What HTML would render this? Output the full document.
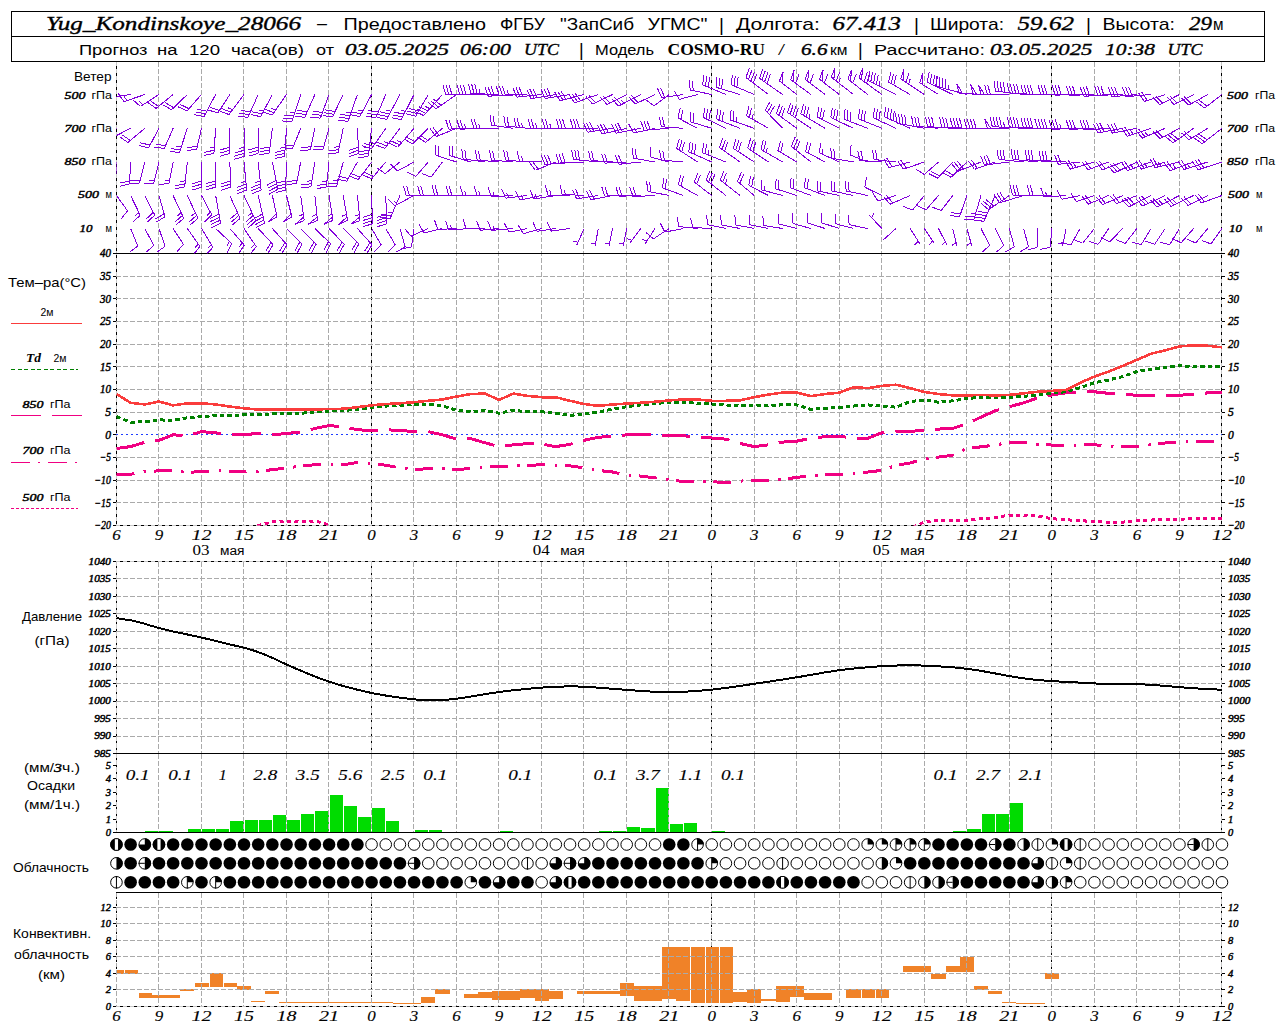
<!DOCTYPE html>
<html lang="ru"><head><meta charset="utf-8"><title>Meteogram Yug_Kondinskoye_28066</title>
<style>html,body{margin:0;padding:0;background:#fff;width:1280px;height:1024px;overflow:hidden}svg{display:block}</style></head>
<body>
<svg width="1280" height="1024" viewBox="0 0 1280 1024" shape-rendering="crispEdges">
<rect x="0" y="0" width="1280" height="1024" fill="#fff"/>
<defs><clipPath id="cw"><rect x="116.45" y="62" width="1105.52" height="191.5"/></clipPath><clipPath id="ct"><rect x="116.45" y="253.5" width="1106.52" height="272"/></clipPath><clipPath id="cc"><rect x="116.45" y="892.5" width="1105.52" height="114"/></clipPath></defs>
<rect x="11.5" y="11.5" width="1253.0" height="50.0" fill="none" stroke="#000" stroke-width="1"/>
<line x1="11.5" y1="36.5" x2="1264.5" y2="36.5" stroke="#000" stroke-width="1"/>
<g id="hdr">
<text x="46" y="30" font-family='"Liberation Serif", serif' font-size="19.5" font-style="italic" text-anchor="start" textLength="255" lengthAdjust="spacingAndGlyphs" fill="#000" stroke="#000" stroke-width="0.35">Yug_Kondinskoye_28066</text>
<text x="317" y="29" font-family='"Liberation Sans", sans-serif' font-size="17" text-anchor="start" textLength="10" lengthAdjust="spacingAndGlyphs" fill="#000">–</text>
<text x="343.5" y="30" font-family='"Liberation Sans", sans-serif' font-size="17" text-anchor="start" textLength="142.5" lengthAdjust="spacingAndGlyphs" fill="#000">Предоставлено</text>
<text x="500" y="30" font-family='"Liberation Sans", sans-serif' font-size="17" text-anchor="start" textLength="45" lengthAdjust="spacingAndGlyphs" fill="#000">ФГБУ</text>
<text x="560" y="30" font-family='"Liberation Sans", sans-serif' font-size="17" text-anchor="start" textLength="74" lengthAdjust="spacingAndGlyphs" fill="#000">"ЗапСиб</text>
<text x="647.5" y="30" font-family='"Liberation Sans", sans-serif' font-size="17" text-anchor="start" textLength="60" lengthAdjust="spacingAndGlyphs" fill="#000">УГМС"</text>
<text x="719" y="31" font-family='"Liberation Sans", sans-serif' font-size="19" text-anchor="start" fill="#000">|</text>
<text x="736" y="30" font-family='"Liberation Sans", sans-serif' font-size="17" text-anchor="start" textLength="84" lengthAdjust="spacingAndGlyphs" fill="#000">Долгота:</text>
<text x="832.5" y="30" font-family='"Liberation Serif", serif' font-size="19.5" font-style="italic" text-anchor="start" textLength="68.5" lengthAdjust="spacingAndGlyphs" fill="#000" stroke="#000" stroke-width="0.35">67.413</text>
<text x="914" y="31" font-family='"Liberation Sans", sans-serif' font-size="19" text-anchor="start" fill="#000">|</text>
<text x="930" y="30" font-family='"Liberation Sans", sans-serif' font-size="17" text-anchor="start" textLength="74" lengthAdjust="spacingAndGlyphs" fill="#000">Широта:</text>
<text x="1017.5" y="30" font-family='"Liberation Serif", serif' font-size="19.5" font-style="italic" text-anchor="start" textLength="56.5" lengthAdjust="spacingAndGlyphs" fill="#000" stroke="#000" stroke-width="0.35">59.62</text>
<text x="1086" y="31" font-family='"Liberation Sans", sans-serif' font-size="19" text-anchor="start" fill="#000">|</text>
<text x="1102.5" y="30" font-family='"Liberation Sans", sans-serif' font-size="17" text-anchor="start" textLength="72.5" lengthAdjust="spacingAndGlyphs" fill="#000">Высота:</text>
<text x="1189" y="30" font-family='"Liberation Serif", serif' font-size="19.5" font-style="italic" text-anchor="start" textLength="23" lengthAdjust="spacingAndGlyphs" fill="#000" stroke="#000" stroke-width="0.35">29</text>
<text x="1213" y="30" font-family='"Liberation Sans", sans-serif' font-size="16" text-anchor="start" textLength="10.5" lengthAdjust="spacingAndGlyphs" fill="#000">м</text>
<text x="79" y="54.5" font-family='"Liberation Sans", sans-serif' font-size="15.5" text-anchor="start" textLength="68.5" lengthAdjust="spacingAndGlyphs" fill="#000">Прогноз</text>
<text x="157" y="54.5" font-family='"Liberation Sans", sans-serif' font-size="15.5" text-anchor="start" textLength="20.5" lengthAdjust="spacingAndGlyphs" fill="#000">на</text>
<text x="189" y="54.5" font-family='"Liberation Sans", sans-serif' font-size="15.5" text-anchor="start" textLength="31" lengthAdjust="spacingAndGlyphs" fill="#000">120</text>
<text x="231" y="54.5" font-family='"Liberation Sans", sans-serif' font-size="15.5" text-anchor="start" textLength="73" lengthAdjust="spacingAndGlyphs" fill="#000">часа(ов)</text>
<text x="316" y="54.5" font-family='"Liberation Sans", sans-serif' font-size="15.5" text-anchor="start" textLength="18" lengthAdjust="spacingAndGlyphs" fill="#000">от</text>
<text x="345" y="54.5" font-family='"Liberation Serif", serif' font-size="17" font-style="italic" text-anchor="start" textLength="104" lengthAdjust="spacingAndGlyphs" fill="#000" stroke="#000" stroke-width="0.35">03.05.2025</text>
<text x="460" y="54.5" font-family='"Liberation Serif", serif' font-size="17" font-style="italic" text-anchor="start" textLength="51" lengthAdjust="spacingAndGlyphs" fill="#000" stroke="#000" stroke-width="0.35">06:00</text>
<text x="524" y="54.5" font-family='"Liberation Serif", serif' font-size="17" font-style="italic" text-anchor="start" textLength="35" lengthAdjust="spacingAndGlyphs" fill="#000" stroke="#000" stroke-width="0.35">UTC</text>
<text x="579" y="55.5" font-family='"Liberation Sans", sans-serif' font-size="18" text-anchor="start" fill="#000">|</text>
<text x="595" y="54.5" font-family='"Liberation Sans", sans-serif' font-size="15.5" text-anchor="start" textLength="59" lengthAdjust="spacingAndGlyphs" fill="#000">Модель</text>
<text x="667.5" y="54.5" font-family='"Liberation Serif", serif' font-size="17" font-weight="bold" text-anchor="start" textLength="97.5" lengthAdjust="spacingAndGlyphs" fill="#000">COSMO-RU</text>
<text x="779" y="54.5" font-family='"Liberation Serif", serif' font-size="17" font-style="italic" font-weight="bold" text-anchor="start" fill="#000">/</text>
<text x="801" y="54.5" font-family='"Liberation Serif", serif' font-size="17" font-style="italic" text-anchor="start" textLength="26.5" lengthAdjust="spacingAndGlyphs" fill="#000" stroke="#000" stroke-width="0.35">6.6</text>
<text x="830" y="54.5" font-family='"Liberation Sans", sans-serif' font-size="14" text-anchor="start" textLength="17.5" lengthAdjust="spacingAndGlyphs" fill="#000">км</text>
<text x="858" y="55.5" font-family='"Liberation Sans", sans-serif' font-size="18" text-anchor="start" fill="#000">|</text>
<text x="874" y="54.5" font-family='"Liberation Sans", sans-serif' font-size="15.5" text-anchor="start" textLength="111" lengthAdjust="spacingAndGlyphs" fill="#000">Рассчитано:</text>
<text x="990" y="54.5" font-family='"Liberation Serif", serif' font-size="17" font-style="italic" text-anchor="start" textLength="102.5" lengthAdjust="spacingAndGlyphs" fill="#000" stroke="#000" stroke-width="0.35">03.05.2025</text>
<text x="1105" y="54.5" font-family='"Liberation Serif", serif' font-size="17" font-style="italic" text-anchor="start" textLength="50" lengthAdjust="spacingAndGlyphs" fill="#000" stroke="#000" stroke-width="0.35">10:38</text>
<text x="1167.5" y="54.5" font-family='"Liberation Serif", serif' font-size="17" font-style="italic" text-anchor="start" textLength="35" lengthAdjust="spacingAndGlyphs" fill="#000" stroke="#000" stroke-width="0.35">UTC</text>
</g>
<g id="conv" clip-path="url(#cc)">
<rect x="109" y="970.4" width="15" height="4.06" fill="#f08228"/>
<rect x="125" y="970.4" width="13" height="4.06" fill="#f08228"/>
<rect x="139" y="993" width="13" height="5.38" fill="#f08228"/>
<rect x="152" y="995.07" width="14" height="3.31" fill="#f08228"/>
<rect x="166" y="995.07" width="14" height="3.31" fill="#f08228"/>
<rect x="180" y="989.11" width="14" height="2.24" fill="#f08228"/>
<rect x="195" y="982.9" width="14" height="4.55" fill="#f08228"/>
<rect x="210" y="973.13" width="13" height="14.32" fill="#f08228"/>
<rect x="224" y="982.9" width="13" height="4.55" fill="#f08228"/>
<rect x="237" y="985.8" width="14" height="3.81" fill="#f08228"/>
<rect x="251" y="1001.12" width="14" height="1.24" fill="#f08228"/>
<rect x="265" y="990.77" width="14" height="2.9" fill="#f08228"/>
<rect x="279" y="1002.11" width="15" height="1" fill="#f08228"/>
<rect x="294" y="1002.11" width="14" height="1" fill="#f08228"/>
<rect x="308" y="1002.11" width="14" height="1" fill="#f08228"/>
<rect x="322" y="1002.11" width="14" height="1" fill="#f08228"/>
<rect x="336" y="1002.11" width="14" height="1" fill="#f08228"/>
<rect x="350" y="1002.11" width="14" height="1" fill="#f08228"/>
<rect x="364" y="1002.11" width="15" height="1" fill="#f08228"/>
<rect x="379" y="1002.11" width="14" height="1" fill="#f08228"/>
<rect x="393" y="1003.02" width="14" height="1" fill="#f08228"/>
<rect x="407" y="1003.02" width="14" height="1" fill="#f08228"/>
<rect x="421" y="996.73" width="14" height="6.46" fill="#f08228"/>
<rect x="435" y="989.11" width="15" height="4.55" fill="#f08228"/>
<rect x="464" y="994.33" width="14" height="4.06" fill="#f08228"/>
<rect x="478" y="992.42" width="14" height="5.96" fill="#f08228"/>
<rect x="492" y="990.77" width="14" height="9.36" fill="#f08228"/>
<rect x="506" y="990.77" width="14" height="9.36" fill="#f08228"/>
<rect x="520" y="989.11" width="15" height="9.27" fill="#f08228"/>
<rect x="535" y="989.11" width="14" height="11.59" fill="#f08228"/>
<rect x="549" y="990.77" width="14" height="8.28" fill="#f08228"/>
<rect x="577" y="990.77" width="14" height="2.9" fill="#f08228"/>
<rect x="591" y="991.02" width="14" height="2.65" fill="#f08228"/>
<rect x="605" y="990.77" width="15" height="2.9" fill="#f08228"/>
<rect x="620" y="982.9" width="14" height="12.83" fill="#f08228"/>
<rect x="634" y="985.8" width="14" height="14.9" fill="#f08228"/>
<rect x="648" y="985.8" width="14" height="14.9" fill="#f08228"/>
<rect x="662" y="946.88" width="14" height="52.16" fill="#f08228"/>
<rect x="676" y="946.88" width="14" height="53.82" fill="#f08228"/>
<rect x="691" y="946.88" width="14" height="56.3" fill="#f08228"/>
<rect x="706" y="946.88" width="13" height="56.3" fill="#f08228"/>
<rect x="720" y="946.88" width="13" height="56.3" fill="#f08228"/>
<rect x="733" y="992.42" width="14" height="9.94" fill="#f08228"/>
<rect x="747" y="989.11" width="14" height="14.08" fill="#f08228"/>
<rect x="761" y="999.05" width="15" height="1.66" fill="#f08228"/>
<rect x="776" y="985.8" width="14" height="15.98" fill="#f08228"/>
<rect x="790" y="985.8" width="14" height="11.59" fill="#f08228"/>
<rect x="804" y="992.84" width="14" height="7.53" fill="#f08228"/>
<rect x="818" y="992.84" width="14" height="7.53" fill="#f08228"/>
<rect x="846" y="989.11" width="15" height="9.36" fill="#f08228"/>
<rect x="862" y="989.11" width="13" height="9.36" fill="#f08228"/>
<rect x="876" y="989.11" width="13" height="9.36" fill="#f08228"/>
<rect x="903" y="966.09" width="14" height="5.63" fill="#f08228"/>
<rect x="917" y="966.09" width="14" height="5.63" fill="#f08228"/>
<rect x="931" y="973.63" width="15" height="4.89" fill="#f08228"/>
<rect x="946" y="966.09" width="14" height="5.63" fill="#f08228"/>
<rect x="960" y="957.07" width="14" height="14.66" fill="#f08228"/>
<rect x="974" y="986.05" width="14" height="3.89" fill="#f08228"/>
<rect x="988" y="990.6" width="14" height="2.98" fill="#f08228"/>
<rect x="1002" y="1001.95" width="14" height="1" fill="#f08228"/>
<rect x="1016" y="1002.94" width="15" height="1" fill="#f08228"/>
<rect x="1031" y="1002.94" width="14" height="1" fill="#f08228"/>
<rect x="1045" y="973.38" width="14" height="5.13" fill="#f08228"/>
</g>
<g id="pbars">
<rect x="145" y="830.5" width="13" height="2" fill="#00dc00"/>
<rect x="159" y="830.5" width="14" height="2" fill="#00dc00"/>
<rect x="188" y="829.15" width="13" height="3.35" fill="#00dc00"/>
<rect x="202" y="829.15" width="13" height="3.35" fill="#00dc00"/>
<rect x="216" y="829.15" width="13" height="3.35" fill="#00dc00"/>
<rect x="230" y="821.11" width="14" height="11.39" fill="#00dc00"/>
<rect x="245" y="820.44" width="13" height="12.06" fill="#00dc00"/>
<rect x="259" y="820.44" width="13" height="12.06" fill="#00dc00"/>
<rect x="273" y="815.08" width="13" height="17.42" fill="#00dc00"/>
<rect x="287" y="820.44" width="13" height="12.06" fill="#00dc00"/>
<rect x="301" y="814.41" width="13" height="18.09" fill="#00dc00"/>
<rect x="315" y="811.06" width="14" height="21.44" fill="#00dc00"/>
<rect x="330" y="794.98" width="13" height="37.52" fill="#00dc00"/>
<rect x="344" y="806.37" width="13" height="26.13" fill="#00dc00"/>
<rect x="358" y="817.09" width="13" height="15.41" fill="#00dc00"/>
<rect x="372" y="808.38" width="13" height="24.12" fill="#00dc00"/>
<rect x="386" y="821.11" width="13" height="11.39" fill="#00dc00"/>
<rect x="415" y="830.49" width="13" height="2.01" fill="#00dc00"/>
<rect x="429" y="829.82" width="13" height="2.68" fill="#00dc00"/>
<rect x="500" y="830.5" width="13" height="2" fill="#00dc00"/>
<rect x="599" y="830.5" width="13" height="2" fill="#00dc00"/>
<rect x="613" y="830.5" width="13" height="2" fill="#00dc00"/>
<rect x="627" y="827.14" width="13" height="5.36" fill="#00dc00"/>
<rect x="641" y="828.21" width="14" height="4.29" fill="#00dc00"/>
<rect x="656" y="787.88" width="13" height="44.62" fill="#00dc00"/>
<rect x="670" y="824.19" width="13" height="8.31" fill="#00dc00"/>
<rect x="684" y="823.12" width="13" height="9.38" fill="#00dc00"/>
<rect x="712" y="830.5" width="13" height="2" fill="#00dc00"/>
<rect x="953" y="830.5" width="13" height="2" fill="#00dc00"/>
<rect x="967" y="829.15" width="14" height="3.35" fill="#00dc00"/>
<rect x="982" y="814.41" width="13" height="18.09" fill="#00dc00"/>
<rect x="996" y="814.41" width="13" height="18.09" fill="#00dc00"/>
<rect x="1010" y="803.42" width="13" height="29.08" fill="#00dc00"/>
</g>
<g id="grid">
<line x1="116.5" y1="62" x2="116.5" y2="525.5" stroke="#c8c8c8" stroke-width="1"/>
<line x1="116.5" y1="62" x2="116.5" y2="525.5" stroke="#000" stroke-width="1" stroke-dasharray="2.7 4.3" stroke-dashoffset="3"/>
<line x1="158.5" y1="62" x2="158.5" y2="525.5" stroke="#aaaaaa" stroke-width="1" stroke-dasharray="5 2"/>
<line x1="201.5" y1="62" x2="201.5" y2="525.5" stroke="#aaaaaa" stroke-width="1" stroke-dasharray="5 2"/>
<line x1="243.5" y1="62" x2="243.5" y2="525.5" stroke="#aaaaaa" stroke-width="1" stroke-dasharray="5 2"/>
<line x1="286.5" y1="62" x2="286.5" y2="525.5" stroke="#aaaaaa" stroke-width="1" stroke-dasharray="5 2"/>
<line x1="328.5" y1="62" x2="328.5" y2="525.5" stroke="#aaaaaa" stroke-width="1" stroke-dasharray="5 2"/>
<line x1="371.5" y1="62" x2="371.5" y2="525.5" stroke="#c8c8c8" stroke-width="1"/>
<line x1="371.5" y1="62" x2="371.5" y2="525.5" stroke="#000" stroke-width="1" stroke-dasharray="2.7 4.3" stroke-dashoffset="3"/>
<line x1="413.5" y1="62" x2="413.5" y2="525.5" stroke="#aaaaaa" stroke-width="1" stroke-dasharray="5 2"/>
<line x1="456.5" y1="62" x2="456.5" y2="525.5" stroke="#aaaaaa" stroke-width="1" stroke-dasharray="5 2"/>
<line x1="498.5" y1="62" x2="498.5" y2="525.5" stroke="#aaaaaa" stroke-width="1" stroke-dasharray="5 2"/>
<line x1="541.5" y1="62" x2="541.5" y2="525.5" stroke="#aaaaaa" stroke-width="1" stroke-dasharray="5 2"/>
<line x1="583.5" y1="62" x2="583.5" y2="525.5" stroke="#aaaaaa" stroke-width="1" stroke-dasharray="5 2"/>
<line x1="626.5" y1="62" x2="626.5" y2="525.5" stroke="#aaaaaa" stroke-width="1" stroke-dasharray="5 2"/>
<line x1="668.5" y1="62" x2="668.5" y2="525.5" stroke="#aaaaaa" stroke-width="1" stroke-dasharray="5 2"/>
<line x1="711.5" y1="62" x2="711.5" y2="525.5" stroke="#c8c8c8" stroke-width="1"/>
<line x1="711.5" y1="62" x2="711.5" y2="525.5" stroke="#000" stroke-width="1" stroke-dasharray="2.7 4.3" stroke-dashoffset="3"/>
<line x1="754.5" y1="62" x2="754.5" y2="525.5" stroke="#aaaaaa" stroke-width="1" stroke-dasharray="5 2"/>
<line x1="796.5" y1="62" x2="796.5" y2="525.5" stroke="#aaaaaa" stroke-width="1" stroke-dasharray="5 2"/>
<line x1="839.5" y1="62" x2="839.5" y2="525.5" stroke="#aaaaaa" stroke-width="1" stroke-dasharray="5 2"/>
<line x1="881.5" y1="62" x2="881.5" y2="525.5" stroke="#aaaaaa" stroke-width="1" stroke-dasharray="5 2"/>
<line x1="924.5" y1="62" x2="924.5" y2="525.5" stroke="#aaaaaa" stroke-width="1" stroke-dasharray="5 2"/>
<line x1="966.5" y1="62" x2="966.5" y2="525.5" stroke="#aaaaaa" stroke-width="1" stroke-dasharray="5 2"/>
<line x1="1009.5" y1="62" x2="1009.5" y2="525.5" stroke="#aaaaaa" stroke-width="1" stroke-dasharray="5 2"/>
<line x1="1051.5" y1="62" x2="1051.5" y2="525.5" stroke="#c8c8c8" stroke-width="1"/>
<line x1="1051.5" y1="62" x2="1051.5" y2="525.5" stroke="#000" stroke-width="1" stroke-dasharray="2.7 4.3" stroke-dashoffset="3"/>
<line x1="1094.5" y1="62" x2="1094.5" y2="525.5" stroke="#aaaaaa" stroke-width="1" stroke-dasharray="5 2"/>
<line x1="1136.5" y1="62" x2="1136.5" y2="525.5" stroke="#aaaaaa" stroke-width="1" stroke-dasharray="5 2"/>
<line x1="1179.5" y1="62" x2="1179.5" y2="525.5" stroke="#aaaaaa" stroke-width="1" stroke-dasharray="5 2"/>
<line x1="1221.5" y1="62" x2="1221.5" y2="525.5" stroke="#c8c8c8" stroke-width="1"/>
<line x1="1221.5" y1="62" x2="1221.5" y2="525.5" stroke="#000" stroke-width="1" stroke-dasharray="2.7 4.3" stroke-dashoffset="3"/>
<line x1="116.5" y1="561.5" x2="116.5" y2="753.5" stroke="#c8c8c8" stroke-width="1"/>
<line x1="116.5" y1="561.5" x2="116.5" y2="753.5" stroke="#000" stroke-width="1" stroke-dasharray="2.7 4.3" stroke-dashoffset="3"/>
<line x1="158.5" y1="561.5" x2="158.5" y2="753.5" stroke="#aaaaaa" stroke-width="1" stroke-dasharray="5 2"/>
<line x1="201.5" y1="561.5" x2="201.5" y2="753.5" stroke="#aaaaaa" stroke-width="1" stroke-dasharray="5 2"/>
<line x1="243.5" y1="561.5" x2="243.5" y2="753.5" stroke="#aaaaaa" stroke-width="1" stroke-dasharray="5 2"/>
<line x1="286.5" y1="561.5" x2="286.5" y2="753.5" stroke="#aaaaaa" stroke-width="1" stroke-dasharray="5 2"/>
<line x1="328.5" y1="561.5" x2="328.5" y2="753.5" stroke="#aaaaaa" stroke-width="1" stroke-dasharray="5 2"/>
<line x1="371.5" y1="561.5" x2="371.5" y2="753.5" stroke="#c8c8c8" stroke-width="1"/>
<line x1="371.5" y1="561.5" x2="371.5" y2="753.5" stroke="#000" stroke-width="1" stroke-dasharray="2.7 4.3" stroke-dashoffset="3"/>
<line x1="413.5" y1="561.5" x2="413.5" y2="753.5" stroke="#aaaaaa" stroke-width="1" stroke-dasharray="5 2"/>
<line x1="456.5" y1="561.5" x2="456.5" y2="753.5" stroke="#aaaaaa" stroke-width="1" stroke-dasharray="5 2"/>
<line x1="498.5" y1="561.5" x2="498.5" y2="753.5" stroke="#aaaaaa" stroke-width="1" stroke-dasharray="5 2"/>
<line x1="541.5" y1="561.5" x2="541.5" y2="753.5" stroke="#aaaaaa" stroke-width="1" stroke-dasharray="5 2"/>
<line x1="583.5" y1="561.5" x2="583.5" y2="753.5" stroke="#aaaaaa" stroke-width="1" stroke-dasharray="5 2"/>
<line x1="626.5" y1="561.5" x2="626.5" y2="753.5" stroke="#aaaaaa" stroke-width="1" stroke-dasharray="5 2"/>
<line x1="668.5" y1="561.5" x2="668.5" y2="753.5" stroke="#aaaaaa" stroke-width="1" stroke-dasharray="5 2"/>
<line x1="711.5" y1="561.5" x2="711.5" y2="753.5" stroke="#c8c8c8" stroke-width="1"/>
<line x1="711.5" y1="561.5" x2="711.5" y2="753.5" stroke="#000" stroke-width="1" stroke-dasharray="2.7 4.3" stroke-dashoffset="3"/>
<line x1="754.5" y1="561.5" x2="754.5" y2="753.5" stroke="#aaaaaa" stroke-width="1" stroke-dasharray="5 2"/>
<line x1="796.5" y1="561.5" x2="796.5" y2="753.5" stroke="#aaaaaa" stroke-width="1" stroke-dasharray="5 2"/>
<line x1="839.5" y1="561.5" x2="839.5" y2="753.5" stroke="#aaaaaa" stroke-width="1" stroke-dasharray="5 2"/>
<line x1="881.5" y1="561.5" x2="881.5" y2="753.5" stroke="#aaaaaa" stroke-width="1" stroke-dasharray="5 2"/>
<line x1="924.5" y1="561.5" x2="924.5" y2="753.5" stroke="#aaaaaa" stroke-width="1" stroke-dasharray="5 2"/>
<line x1="966.5" y1="561.5" x2="966.5" y2="753.5" stroke="#aaaaaa" stroke-width="1" stroke-dasharray="5 2"/>
<line x1="1009.5" y1="561.5" x2="1009.5" y2="753.5" stroke="#aaaaaa" stroke-width="1" stroke-dasharray="5 2"/>
<line x1="1051.5" y1="561.5" x2="1051.5" y2="753.5" stroke="#c8c8c8" stroke-width="1"/>
<line x1="1051.5" y1="561.5" x2="1051.5" y2="753.5" stroke="#000" stroke-width="1" stroke-dasharray="2.7 4.3" stroke-dashoffset="3"/>
<line x1="1094.5" y1="561.5" x2="1094.5" y2="753.5" stroke="#aaaaaa" stroke-width="1" stroke-dasharray="5 2"/>
<line x1="1136.5" y1="561.5" x2="1136.5" y2="753.5" stroke="#aaaaaa" stroke-width="1" stroke-dasharray="5 2"/>
<line x1="1179.5" y1="561.5" x2="1179.5" y2="753.5" stroke="#aaaaaa" stroke-width="1" stroke-dasharray="5 2"/>
<line x1="1221.5" y1="561.5" x2="1221.5" y2="753.5" stroke="#c8c8c8" stroke-width="1"/>
<line x1="1221.5" y1="561.5" x2="1221.5" y2="753.5" stroke="#000" stroke-width="1" stroke-dasharray="2.7 4.3" stroke-dashoffset="3"/>
<line x1="116.5" y1="753.5" x2="116.5" y2="832.5" stroke="#c8c8c8" stroke-width="1"/>
<line x1="116.5" y1="753.5" x2="116.5" y2="832.5" stroke="#000" stroke-width="1" stroke-dasharray="2.7 4.3" stroke-dashoffset="3"/>
<line x1="158.5" y1="753.5" x2="158.5" y2="832.5" stroke="#aaaaaa" stroke-width="1" stroke-dasharray="5 2"/>
<line x1="201.5" y1="753.5" x2="201.5" y2="832.5" stroke="#aaaaaa" stroke-width="1" stroke-dasharray="5 2"/>
<line x1="243.5" y1="753.5" x2="243.5" y2="832.5" stroke="#aaaaaa" stroke-width="1" stroke-dasharray="5 2"/>
<line x1="286.5" y1="753.5" x2="286.5" y2="832.5" stroke="#aaaaaa" stroke-width="1" stroke-dasharray="5 2"/>
<line x1="328.5" y1="753.5" x2="328.5" y2="832.5" stroke="#aaaaaa" stroke-width="1" stroke-dasharray="5 2"/>
<line x1="371.5" y1="753.5" x2="371.5" y2="832.5" stroke="#aaaaaa" stroke-width="1" stroke-dasharray="5 2"/>
<line x1="413.5" y1="753.5" x2="413.5" y2="832.5" stroke="#aaaaaa" stroke-width="1" stroke-dasharray="5 2"/>
<line x1="456.5" y1="753.5" x2="456.5" y2="832.5" stroke="#aaaaaa" stroke-width="1" stroke-dasharray="5 2"/>
<line x1="498.5" y1="753.5" x2="498.5" y2="832.5" stroke="#aaaaaa" stroke-width="1" stroke-dasharray="5 2"/>
<line x1="541.5" y1="753.5" x2="541.5" y2="832.5" stroke="#aaaaaa" stroke-width="1" stroke-dasharray="5 2"/>
<line x1="583.5" y1="753.5" x2="583.5" y2="832.5" stroke="#aaaaaa" stroke-width="1" stroke-dasharray="5 2"/>
<line x1="626.5" y1="753.5" x2="626.5" y2="832.5" stroke="#aaaaaa" stroke-width="1" stroke-dasharray="5 2"/>
<line x1="668.5" y1="753.5" x2="668.5" y2="832.5" stroke="#aaaaaa" stroke-width="1" stroke-dasharray="5 2"/>
<line x1="711.5" y1="753.5" x2="711.5" y2="832.5" stroke="#aaaaaa" stroke-width="1" stroke-dasharray="5 2"/>
<line x1="754.5" y1="753.5" x2="754.5" y2="832.5" stroke="#aaaaaa" stroke-width="1" stroke-dasharray="5 2"/>
<line x1="796.5" y1="753.5" x2="796.5" y2="832.5" stroke="#aaaaaa" stroke-width="1" stroke-dasharray="5 2"/>
<line x1="839.5" y1="753.5" x2="839.5" y2="832.5" stroke="#aaaaaa" stroke-width="1" stroke-dasharray="5 2"/>
<line x1="881.5" y1="753.5" x2="881.5" y2="832.5" stroke="#aaaaaa" stroke-width="1" stroke-dasharray="5 2"/>
<line x1="924.5" y1="753.5" x2="924.5" y2="832.5" stroke="#aaaaaa" stroke-width="1" stroke-dasharray="5 2"/>
<line x1="966.5" y1="753.5" x2="966.5" y2="832.5" stroke="#aaaaaa" stroke-width="1" stroke-dasharray="5 2"/>
<line x1="1009.5" y1="753.5" x2="1009.5" y2="832.5" stroke="#aaaaaa" stroke-width="1" stroke-dasharray="5 2"/>
<line x1="1051.5" y1="753.5" x2="1051.5" y2="832.5" stroke="#aaaaaa" stroke-width="1" stroke-dasharray="5 2"/>
<line x1="1094.5" y1="753.5" x2="1094.5" y2="832.5" stroke="#aaaaaa" stroke-width="1" stroke-dasharray="5 2"/>
<line x1="1136.5" y1="753.5" x2="1136.5" y2="832.5" stroke="#aaaaaa" stroke-width="1" stroke-dasharray="5 2"/>
<line x1="1179.5" y1="753.5" x2="1179.5" y2="832.5" stroke="#aaaaaa" stroke-width="1" stroke-dasharray="5 2"/>
<line x1="1221.5" y1="753.5" x2="1221.5" y2="832.5" stroke="#c8c8c8" stroke-width="1"/>
<line x1="1221.5" y1="753.5" x2="1221.5" y2="832.5" stroke="#000" stroke-width="1" stroke-dasharray="2.7 4.3" stroke-dashoffset="3"/>
<line x1="116.5" y1="892.5" x2="116.5" y2="1006.5" stroke="#aaaaaa" stroke-width="1" stroke-dasharray="5 2"/>
<line x1="116.5" y1="892.5" x2="116.5" y2="970.4" stroke="#000" stroke-width="1" stroke-dasharray="2.7 4.3" stroke-dashoffset="3"/>
<line x1="158.5" y1="892.5" x2="158.5" y2="1006.5" stroke="#aaaaaa" stroke-width="1" stroke-dasharray="5 2"/>
<line x1="201.5" y1="892.5" x2="201.5" y2="1006.5" stroke="#aaaaaa" stroke-width="1" stroke-dasharray="5 2"/>
<line x1="243.5" y1="892.5" x2="243.5" y2="1006.5" stroke="#aaaaaa" stroke-width="1" stroke-dasharray="5 2"/>
<line x1="286.5" y1="892.5" x2="286.5" y2="1006.5" stroke="#aaaaaa" stroke-width="1" stroke-dasharray="5 2"/>
<line x1="328.5" y1="892.5" x2="328.5" y2="1006.5" stroke="#aaaaaa" stroke-width="1" stroke-dasharray="5 2"/>
<line x1="371.5" y1="892.5" x2="371.5" y2="1006.5" stroke="#aaaaaa" stroke-width="1" stroke-dasharray="5 2"/>
<line x1="371.5" y1="892.5" x2="371.5" y2="1002.11" stroke="#000" stroke-width="1" stroke-dasharray="2.7 4.3" stroke-dashoffset="3"/>
<line x1="413.5" y1="892.5" x2="413.5" y2="1006.5" stroke="#aaaaaa" stroke-width="1" stroke-dasharray="5 2"/>
<line x1="456.5" y1="892.5" x2="456.5" y2="1006.5" stroke="#aaaaaa" stroke-width="1" stroke-dasharray="5 2"/>
<line x1="498.5" y1="892.5" x2="498.5" y2="1006.5" stroke="#aaaaaa" stroke-width="1" stroke-dasharray="5 2"/>
<line x1="541.5" y1="892.5" x2="541.5" y2="1006.5" stroke="#aaaaaa" stroke-width="1" stroke-dasharray="5 2"/>
<line x1="583.5" y1="892.5" x2="583.5" y2="1006.5" stroke="#aaaaaa" stroke-width="1" stroke-dasharray="5 2"/>
<line x1="626.5" y1="892.5" x2="626.5" y2="1006.5" stroke="#aaaaaa" stroke-width="1" stroke-dasharray="5 2"/>
<line x1="668.5" y1="892.5" x2="668.5" y2="1006.5" stroke="#aaaaaa" stroke-width="1" stroke-dasharray="5 2"/>
<line x1="711.5" y1="892.5" x2="711.5" y2="1006.5" stroke="#aaaaaa" stroke-width="1" stroke-dasharray="5 2"/>
<line x1="711.5" y1="892.5" x2="711.5" y2="946.88" stroke="#000" stroke-width="1" stroke-dasharray="2.7 4.3" stroke-dashoffset="3"/>
<line x1="754.5" y1="892.5" x2="754.5" y2="1006.5" stroke="#aaaaaa" stroke-width="1" stroke-dasharray="5 2"/>
<line x1="796.5" y1="892.5" x2="796.5" y2="1006.5" stroke="#aaaaaa" stroke-width="1" stroke-dasharray="5 2"/>
<line x1="839.5" y1="892.5" x2="839.5" y2="1006.5" stroke="#aaaaaa" stroke-width="1" stroke-dasharray="5 2"/>
<line x1="881.5" y1="892.5" x2="881.5" y2="1006.5" stroke="#aaaaaa" stroke-width="1" stroke-dasharray="5 2"/>
<line x1="924.5" y1="892.5" x2="924.5" y2="1006.5" stroke="#aaaaaa" stroke-width="1" stroke-dasharray="5 2"/>
<line x1="966.5" y1="892.5" x2="966.5" y2="1006.5" stroke="#aaaaaa" stroke-width="1" stroke-dasharray="5 2"/>
<line x1="1009.5" y1="892.5" x2="1009.5" y2="1006.5" stroke="#aaaaaa" stroke-width="1" stroke-dasharray="5 2"/>
<line x1="1051.5" y1="892.5" x2="1051.5" y2="1006.5" stroke="#aaaaaa" stroke-width="1" stroke-dasharray="5 2"/>
<line x1="1051.5" y1="892.5" x2="1051.5" y2="973.38" stroke="#000" stroke-width="1" stroke-dasharray="2.7 4.3" stroke-dashoffset="3"/>
<line x1="1094.5" y1="892.5" x2="1094.5" y2="1006.5" stroke="#aaaaaa" stroke-width="1" stroke-dasharray="5 2"/>
<line x1="1136.5" y1="892.5" x2="1136.5" y2="1006.5" stroke="#aaaaaa" stroke-width="1" stroke-dasharray="5 2"/>
<line x1="1179.5" y1="892.5" x2="1179.5" y2="1006.5" stroke="#aaaaaa" stroke-width="1" stroke-dasharray="5 2"/>
<line x1="1221.5" y1="892.5" x2="1221.5" y2="1006.5" stroke="#c8c8c8" stroke-width="1"/>
<line x1="1221.5" y1="892.5" x2="1221.5" y2="1006.5" stroke="#000" stroke-width="1" stroke-dasharray="2.7 4.3" stroke-dashoffset="3"/>
<line x1="116.45" y1="502.83" x2="1221.97" y2="502.83" stroke="#aaaaaa" stroke-width="1" stroke-dasharray="5 2"/>
<line x1="116.45" y1="480.17" x2="1221.97" y2="480.17" stroke="#aaaaaa" stroke-width="1" stroke-dasharray="5 2"/>
<line x1="116.45" y1="457.5" x2="1221.97" y2="457.5" stroke="#aaaaaa" stroke-width="1" stroke-dasharray="5 2"/>
<line x1="116.45" y1="412.17" x2="1221.97" y2="412.17" stroke="#aaaaaa" stroke-width="1" stroke-dasharray="5 2"/>
<line x1="116.45" y1="389.5" x2="1221.97" y2="389.5" stroke="#aaaaaa" stroke-width="1" stroke-dasharray="5 2"/>
<line x1="116.45" y1="366.83" x2="1221.97" y2="366.83" stroke="#aaaaaa" stroke-width="1" stroke-dasharray="5 2"/>
<line x1="116.45" y1="344.17" x2="1221.97" y2="344.17" stroke="#aaaaaa" stroke-width="1" stroke-dasharray="5 2"/>
<line x1="116.45" y1="321.5" x2="1221.97" y2="321.5" stroke="#aaaaaa" stroke-width="1" stroke-dasharray="5 2"/>
<line x1="116.45" y1="298.83" x2="1221.97" y2="298.83" stroke="#aaaaaa" stroke-width="1" stroke-dasharray="5 2"/>
<line x1="116.45" y1="276.17" x2="1221.97" y2="276.17" stroke="#aaaaaa" stroke-width="1" stroke-dasharray="5 2"/>
<line x1="116.45" y1="434.83" x2="1221.97" y2="434.83" stroke="#1e3cff" stroke-width="1" stroke-dasharray="1.6 3.4"/>
<line x1="116.45" y1="253.5" x2="1221.97" y2="253.5" stroke="#000" stroke-width="1"/>
<line x1="116.45" y1="525.5" x2="1221.97" y2="525.5" stroke="#c8c8c8" stroke-width="1"/>
<line x1="116.45" y1="525.5" x2="1221.97" y2="525.5" stroke="#000" stroke-width="1" stroke-dasharray="2.7 4.3" stroke-dashoffset="3"/>
<line x1="116.45" y1="736.05" x2="1221.97" y2="736.05" stroke="#aaaaaa" stroke-width="1" stroke-dasharray="5 2"/>
<line x1="116.45" y1="718.59" x2="1221.97" y2="718.59" stroke="#aaaaaa" stroke-width="1" stroke-dasharray="5 2"/>
<line x1="116.45" y1="701.14" x2="1221.97" y2="701.14" stroke="#aaaaaa" stroke-width="1" stroke-dasharray="5 2"/>
<line x1="116.45" y1="683.68" x2="1221.97" y2="683.68" stroke="#aaaaaa" stroke-width="1" stroke-dasharray="5 2"/>
<line x1="116.45" y1="666.23" x2="1221.97" y2="666.23" stroke="#aaaaaa" stroke-width="1" stroke-dasharray="5 2"/>
<line x1="116.45" y1="648.77" x2="1221.97" y2="648.77" stroke="#aaaaaa" stroke-width="1" stroke-dasharray="5 2"/>
<line x1="116.45" y1="631.32" x2="1221.97" y2="631.32" stroke="#aaaaaa" stroke-width="1" stroke-dasharray="5 2"/>
<line x1="116.45" y1="613.86" x2="1221.97" y2="613.86" stroke="#aaaaaa" stroke-width="1" stroke-dasharray="5 2"/>
<line x1="116.45" y1="596.41" x2="1221.97" y2="596.41" stroke="#aaaaaa" stroke-width="1" stroke-dasharray="5 2"/>
<line x1="116.45" y1="578.95" x2="1221.97" y2="578.95" stroke="#aaaaaa" stroke-width="1" stroke-dasharray="5 2"/>
<line x1="116.45" y1="561.5" x2="1221.97" y2="561.5" stroke="#c8c8c8" stroke-width="1"/>
<line x1="116.45" y1="561.5" x2="1221.97" y2="561.5" stroke="#000" stroke-width="1" stroke-dasharray="2.7 4.3" stroke-dashoffset="3"/>
<line x1="116.45" y1="753.5" x2="1221.97" y2="753.5" stroke="#000" stroke-width="1"/>
<line x1="116.45" y1="989.94" x2="1221.97" y2="989.94" stroke="#aaaaaa" stroke-width="1" stroke-dasharray="5 2"/>
<line x1="116.45" y1="973.38" x2="1221.97" y2="973.38" stroke="#aaaaaa" stroke-width="1" stroke-dasharray="5 2"/>
<line x1="116.45" y1="956.82" x2="1221.97" y2="956.82" stroke="#aaaaaa" stroke-width="1" stroke-dasharray="5 2"/>
<line x1="116.45" y1="940.26" x2="1221.97" y2="940.26" stroke="#aaaaaa" stroke-width="1" stroke-dasharray="5 2"/>
<line x1="116.45" y1="923.7" x2="1221.97" y2="923.7" stroke="#aaaaaa" stroke-width="1" stroke-dasharray="5 2"/>
<line x1="116.45" y1="907.14" x2="1221.97" y2="907.14" stroke="#aaaaaa" stroke-width="1" stroke-dasharray="5 2"/>
<line x1="116.45" y1="892.5" x2="1221.97" y2="892.5" stroke="#000" stroke-width="1"/>
<line x1="116.45" y1="1006.5" x2="1221.97" y2="1006.5" stroke="#c8c8c8" stroke-width="1"/>
<line x1="116.45" y1="1006.5" x2="1221.97" y2="1006.5" stroke="#000" stroke-width="1" stroke-dasharray="2.7 4.3" stroke-dashoffset="3"/>
</g>
<g id="ticks">
<line x1="113.45" y1="525.5" x2="116.45" y2="525.5" stroke="#000" stroke-width="1"/>
<text x="110.95" y="529.3" font-family='"Liberation Serif", serif' font-size="11.5" font-style="italic" text-anchor="end" textLength="16.5" lengthAdjust="spacingAndGlyphs" fill="#000" stroke="#000" stroke-width="0.45">−20</text>
<line x1="1221.97" y1="525.5" x2="1224.97" y2="525.5" stroke="#000" stroke-width="1"/>
<text x="1227.97" y="529.3" font-family='"Liberation Serif", serif' font-size="11.5" font-style="italic" text-anchor="start" textLength="16.5" lengthAdjust="spacingAndGlyphs" fill="#000" stroke="#000" stroke-width="0.45">−20</text>
<line x1="113.45" y1="502.83" x2="116.45" y2="502.83" stroke="#000" stroke-width="1"/>
<text x="110.95" y="506.63" font-family='"Liberation Serif", serif' font-size="11.5" font-style="italic" text-anchor="end" textLength="16.5" lengthAdjust="spacingAndGlyphs" fill="#000" stroke="#000" stroke-width="0.45">−15</text>
<line x1="1221.97" y1="502.83" x2="1224.97" y2="502.83" stroke="#000" stroke-width="1"/>
<text x="1227.97" y="506.63" font-family='"Liberation Serif", serif' font-size="11.5" font-style="italic" text-anchor="start" textLength="16.5" lengthAdjust="spacingAndGlyphs" fill="#000" stroke="#000" stroke-width="0.45">−15</text>
<line x1="113.45" y1="480.17" x2="116.45" y2="480.17" stroke="#000" stroke-width="1"/>
<text x="110.95" y="483.97" font-family='"Liberation Serif", serif' font-size="11.5" font-style="italic" text-anchor="end" textLength="16.5" lengthAdjust="spacingAndGlyphs" fill="#000" stroke="#000" stroke-width="0.45">−10</text>
<line x1="1221.97" y1="480.17" x2="1224.97" y2="480.17" stroke="#000" stroke-width="1"/>
<text x="1227.97" y="483.97" font-family='"Liberation Serif", serif' font-size="11.5" font-style="italic" text-anchor="start" textLength="16.5" lengthAdjust="spacingAndGlyphs" fill="#000" stroke="#000" stroke-width="0.45">−10</text>
<line x1="113.45" y1="457.5" x2="116.45" y2="457.5" stroke="#000" stroke-width="1"/>
<text x="110.95" y="461.3" font-family='"Liberation Serif", serif' font-size="11.5" font-style="italic" text-anchor="end" textLength="11" lengthAdjust="spacingAndGlyphs" fill="#000" stroke="#000" stroke-width="0.45">−5</text>
<line x1="1221.97" y1="457.5" x2="1224.97" y2="457.5" stroke="#000" stroke-width="1"/>
<text x="1227.97" y="461.3" font-family='"Liberation Serif", serif' font-size="11.5" font-style="italic" text-anchor="start" textLength="11" lengthAdjust="spacingAndGlyphs" fill="#000" stroke="#000" stroke-width="0.45">−5</text>
<line x1="113.45" y1="434.83" x2="116.45" y2="434.83" stroke="#000" stroke-width="1"/>
<text x="110.95" y="438.63" font-family='"Liberation Serif", serif' font-size="11.5" font-style="italic" text-anchor="end" fill="#000" stroke="#000" stroke-width="0.45">0</text>
<line x1="1221.97" y1="434.83" x2="1224.97" y2="434.83" stroke="#000" stroke-width="1"/>
<text x="1227.97" y="438.63" font-family='"Liberation Serif", serif' font-size="11.5" font-style="italic" text-anchor="start" fill="#000" stroke="#000" stroke-width="0.45">0</text>
<line x1="113.45" y1="412.17" x2="116.45" y2="412.17" stroke="#000" stroke-width="1"/>
<text x="110.95" y="415.97" font-family='"Liberation Serif", serif' font-size="11.5" font-style="italic" text-anchor="end" fill="#000" stroke="#000" stroke-width="0.45">5</text>
<line x1="1221.97" y1="412.17" x2="1224.97" y2="412.17" stroke="#000" stroke-width="1"/>
<text x="1227.97" y="415.97" font-family='"Liberation Serif", serif' font-size="11.5" font-style="italic" text-anchor="start" fill="#000" stroke="#000" stroke-width="0.45">5</text>
<line x1="113.45" y1="389.5" x2="116.45" y2="389.5" stroke="#000" stroke-width="1"/>
<text x="110.95" y="393.3" font-family='"Liberation Serif", serif' font-size="11.5" font-style="italic" text-anchor="end" textLength="11" lengthAdjust="spacingAndGlyphs" fill="#000" stroke="#000" stroke-width="0.45">10</text>
<line x1="1221.97" y1="389.5" x2="1224.97" y2="389.5" stroke="#000" stroke-width="1"/>
<text x="1227.97" y="393.3" font-family='"Liberation Serif", serif' font-size="11.5" font-style="italic" text-anchor="start" textLength="11" lengthAdjust="spacingAndGlyphs" fill="#000" stroke="#000" stroke-width="0.45">10</text>
<line x1="113.45" y1="366.83" x2="116.45" y2="366.83" stroke="#000" stroke-width="1"/>
<text x="110.95" y="370.63" font-family='"Liberation Serif", serif' font-size="11.5" font-style="italic" text-anchor="end" textLength="11" lengthAdjust="spacingAndGlyphs" fill="#000" stroke="#000" stroke-width="0.45">15</text>
<line x1="1221.97" y1="366.83" x2="1224.97" y2="366.83" stroke="#000" stroke-width="1"/>
<text x="1227.97" y="370.63" font-family='"Liberation Serif", serif' font-size="11.5" font-style="italic" text-anchor="start" textLength="11" lengthAdjust="spacingAndGlyphs" fill="#000" stroke="#000" stroke-width="0.45">15</text>
<line x1="113.45" y1="344.17" x2="116.45" y2="344.17" stroke="#000" stroke-width="1"/>
<text x="110.95" y="347.97" font-family='"Liberation Serif", serif' font-size="11.5" font-style="italic" text-anchor="end" textLength="11" lengthAdjust="spacingAndGlyphs" fill="#000" stroke="#000" stroke-width="0.45">20</text>
<line x1="1221.97" y1="344.17" x2="1224.97" y2="344.17" stroke="#000" stroke-width="1"/>
<text x="1227.97" y="347.97" font-family='"Liberation Serif", serif' font-size="11.5" font-style="italic" text-anchor="start" textLength="11" lengthAdjust="spacingAndGlyphs" fill="#000" stroke="#000" stroke-width="0.45">20</text>
<line x1="113.45" y1="321.5" x2="116.45" y2="321.5" stroke="#000" stroke-width="1"/>
<text x="110.95" y="325.3" font-family='"Liberation Serif", serif' font-size="11.5" font-style="italic" text-anchor="end" textLength="11" lengthAdjust="spacingAndGlyphs" fill="#000" stroke="#000" stroke-width="0.45">25</text>
<line x1="1221.97" y1="321.5" x2="1224.97" y2="321.5" stroke="#000" stroke-width="1"/>
<text x="1227.97" y="325.3" font-family='"Liberation Serif", serif' font-size="11.5" font-style="italic" text-anchor="start" textLength="11" lengthAdjust="spacingAndGlyphs" fill="#000" stroke="#000" stroke-width="0.45">25</text>
<line x1="113.45" y1="298.83" x2="116.45" y2="298.83" stroke="#000" stroke-width="1"/>
<text x="110.95" y="302.63" font-family='"Liberation Serif", serif' font-size="11.5" font-style="italic" text-anchor="end" textLength="11" lengthAdjust="spacingAndGlyphs" fill="#000" stroke="#000" stroke-width="0.45">30</text>
<line x1="1221.97" y1="298.83" x2="1224.97" y2="298.83" stroke="#000" stroke-width="1"/>
<text x="1227.97" y="302.63" font-family='"Liberation Serif", serif' font-size="11.5" font-style="italic" text-anchor="start" textLength="11" lengthAdjust="spacingAndGlyphs" fill="#000" stroke="#000" stroke-width="0.45">30</text>
<line x1="113.45" y1="276.17" x2="116.45" y2="276.17" stroke="#000" stroke-width="1"/>
<text x="110.95" y="279.97" font-family='"Liberation Serif", serif' font-size="11.5" font-style="italic" text-anchor="end" textLength="11" lengthAdjust="spacingAndGlyphs" fill="#000" stroke="#000" stroke-width="0.45">35</text>
<line x1="1221.97" y1="276.17" x2="1224.97" y2="276.17" stroke="#000" stroke-width="1"/>
<text x="1227.97" y="279.97" font-family='"Liberation Serif", serif' font-size="11.5" font-style="italic" text-anchor="start" textLength="11" lengthAdjust="spacingAndGlyphs" fill="#000" stroke="#000" stroke-width="0.45">35</text>
<line x1="113.45" y1="253.5" x2="116.45" y2="253.5" stroke="#000" stroke-width="1"/>
<text x="110.95" y="257.3" font-family='"Liberation Serif", serif' font-size="11.5" font-style="italic" text-anchor="end" textLength="11" lengthAdjust="spacingAndGlyphs" fill="#000" stroke="#000" stroke-width="0.45">40</text>
<line x1="1221.97" y1="253.5" x2="1224.97" y2="253.5" stroke="#000" stroke-width="1"/>
<text x="1227.97" y="257.3" font-family='"Liberation Serif", serif' font-size="11.5" font-style="italic" text-anchor="start" textLength="11" lengthAdjust="spacingAndGlyphs" fill="#000" stroke="#000" stroke-width="0.45">40</text>
<line x1="113.45" y1="753.5" x2="116.45" y2="753.5" stroke="#000" stroke-width="1"/>
<text x="110.95" y="756.8" font-family='"Liberation Serif", serif' font-size="10" font-style="italic" text-anchor="end" textLength="16.8" lengthAdjust="spacingAndGlyphs" fill="#000" stroke="#000" stroke-width="0.45">985</text>
<line x1="1221.97" y1="753.5" x2="1224.97" y2="753.5" stroke="#000" stroke-width="1"/>
<text x="1227.97" y="756.8" font-family='"Liberation Serif", serif' font-size="10" font-style="italic" text-anchor="start" textLength="16.8" lengthAdjust="spacingAndGlyphs" fill="#000" stroke="#000" stroke-width="0.45">985</text>
<line x1="113.45" y1="736.05" x2="116.45" y2="736.05" stroke="#000" stroke-width="1"/>
<text x="110.95" y="739.35" font-family='"Liberation Serif", serif' font-size="10" font-style="italic" text-anchor="end" textLength="16.8" lengthAdjust="spacingAndGlyphs" fill="#000" stroke="#000" stroke-width="0.45">990</text>
<line x1="1221.97" y1="736.05" x2="1224.97" y2="736.05" stroke="#000" stroke-width="1"/>
<text x="1227.97" y="739.35" font-family='"Liberation Serif", serif' font-size="10" font-style="italic" text-anchor="start" textLength="16.8" lengthAdjust="spacingAndGlyphs" fill="#000" stroke="#000" stroke-width="0.45">990</text>
<line x1="113.45" y1="718.59" x2="116.45" y2="718.59" stroke="#000" stroke-width="1"/>
<text x="110.95" y="721.89" font-family='"Liberation Serif", serif' font-size="10" font-style="italic" text-anchor="end" textLength="16.8" lengthAdjust="spacingAndGlyphs" fill="#000" stroke="#000" stroke-width="0.45">995</text>
<line x1="1221.97" y1="718.59" x2="1224.97" y2="718.59" stroke="#000" stroke-width="1"/>
<text x="1227.97" y="721.89" font-family='"Liberation Serif", serif' font-size="10" font-style="italic" text-anchor="start" textLength="16.8" lengthAdjust="spacingAndGlyphs" fill="#000" stroke="#000" stroke-width="0.45">995</text>
<line x1="113.45" y1="701.14" x2="116.45" y2="701.14" stroke="#000" stroke-width="1"/>
<text x="110.95" y="704.44" font-family='"Liberation Serif", serif' font-size="10" font-style="italic" text-anchor="end" textLength="22.4" lengthAdjust="spacingAndGlyphs" fill="#000" stroke="#000" stroke-width="0.45">1000</text>
<line x1="1221.97" y1="701.14" x2="1224.97" y2="701.14" stroke="#000" stroke-width="1"/>
<text x="1227.97" y="704.44" font-family='"Liberation Serif", serif' font-size="10" font-style="italic" text-anchor="start" textLength="22.4" lengthAdjust="spacingAndGlyphs" fill="#000" stroke="#000" stroke-width="0.45">1000</text>
<line x1="113.45" y1="683.68" x2="116.45" y2="683.68" stroke="#000" stroke-width="1"/>
<text x="110.95" y="686.98" font-family='"Liberation Serif", serif' font-size="10" font-style="italic" text-anchor="end" textLength="22.4" lengthAdjust="spacingAndGlyphs" fill="#000" stroke="#000" stroke-width="0.45">1005</text>
<line x1="1221.97" y1="683.68" x2="1224.97" y2="683.68" stroke="#000" stroke-width="1"/>
<text x="1227.97" y="686.98" font-family='"Liberation Serif", serif' font-size="10" font-style="italic" text-anchor="start" textLength="22.4" lengthAdjust="spacingAndGlyphs" fill="#000" stroke="#000" stroke-width="0.45">1005</text>
<line x1="113.45" y1="666.23" x2="116.45" y2="666.23" stroke="#000" stroke-width="1"/>
<text x="110.95" y="669.53" font-family='"Liberation Serif", serif' font-size="10" font-style="italic" text-anchor="end" textLength="22.4" lengthAdjust="spacingAndGlyphs" fill="#000" stroke="#000" stroke-width="0.45">1010</text>
<line x1="1221.97" y1="666.23" x2="1224.97" y2="666.23" stroke="#000" stroke-width="1"/>
<text x="1227.97" y="669.53" font-family='"Liberation Serif", serif' font-size="10" font-style="italic" text-anchor="start" textLength="22.4" lengthAdjust="spacingAndGlyphs" fill="#000" stroke="#000" stroke-width="0.45">1010</text>
<line x1="113.45" y1="648.77" x2="116.45" y2="648.77" stroke="#000" stroke-width="1"/>
<text x="110.95" y="652.07" font-family='"Liberation Serif", serif' font-size="10" font-style="italic" text-anchor="end" textLength="22.4" lengthAdjust="spacingAndGlyphs" fill="#000" stroke="#000" stroke-width="0.45">1015</text>
<line x1="1221.97" y1="648.77" x2="1224.97" y2="648.77" stroke="#000" stroke-width="1"/>
<text x="1227.97" y="652.07" font-family='"Liberation Serif", serif' font-size="10" font-style="italic" text-anchor="start" textLength="22.4" lengthAdjust="spacingAndGlyphs" fill="#000" stroke="#000" stroke-width="0.45">1015</text>
<line x1="113.45" y1="631.32" x2="116.45" y2="631.32" stroke="#000" stroke-width="1"/>
<text x="110.95" y="634.62" font-family='"Liberation Serif", serif' font-size="10" font-style="italic" text-anchor="end" textLength="22.4" lengthAdjust="spacingAndGlyphs" fill="#000" stroke="#000" stroke-width="0.45">1020</text>
<line x1="1221.97" y1="631.32" x2="1224.97" y2="631.32" stroke="#000" stroke-width="1"/>
<text x="1227.97" y="634.62" font-family='"Liberation Serif", serif' font-size="10" font-style="italic" text-anchor="start" textLength="22.4" lengthAdjust="spacingAndGlyphs" fill="#000" stroke="#000" stroke-width="0.45">1020</text>
<line x1="113.45" y1="613.86" x2="116.45" y2="613.86" stroke="#000" stroke-width="1"/>
<text x="110.95" y="617.16" font-family='"Liberation Serif", serif' font-size="10" font-style="italic" text-anchor="end" textLength="22.4" lengthAdjust="spacingAndGlyphs" fill="#000" stroke="#000" stroke-width="0.45">1025</text>
<line x1="1221.97" y1="613.86" x2="1224.97" y2="613.86" stroke="#000" stroke-width="1"/>
<text x="1227.97" y="617.16" font-family='"Liberation Serif", serif' font-size="10" font-style="italic" text-anchor="start" textLength="22.4" lengthAdjust="spacingAndGlyphs" fill="#000" stroke="#000" stroke-width="0.45">1025</text>
<line x1="113.45" y1="596.41" x2="116.45" y2="596.41" stroke="#000" stroke-width="1"/>
<text x="110.95" y="599.71" font-family='"Liberation Serif", serif' font-size="10" font-style="italic" text-anchor="end" textLength="22.4" lengthAdjust="spacingAndGlyphs" fill="#000" stroke="#000" stroke-width="0.45">1030</text>
<line x1="1221.97" y1="596.41" x2="1224.97" y2="596.41" stroke="#000" stroke-width="1"/>
<text x="1227.97" y="599.71" font-family='"Liberation Serif", serif' font-size="10" font-style="italic" text-anchor="start" textLength="22.4" lengthAdjust="spacingAndGlyphs" fill="#000" stroke="#000" stroke-width="0.45">1030</text>
<line x1="113.45" y1="578.95" x2="116.45" y2="578.95" stroke="#000" stroke-width="1"/>
<text x="110.95" y="582.25" font-family='"Liberation Serif", serif' font-size="10" font-style="italic" text-anchor="end" textLength="22.4" lengthAdjust="spacingAndGlyphs" fill="#000" stroke="#000" stroke-width="0.45">1035</text>
<line x1="1221.97" y1="578.95" x2="1224.97" y2="578.95" stroke="#000" stroke-width="1"/>
<text x="1227.97" y="582.25" font-family='"Liberation Serif", serif' font-size="10" font-style="italic" text-anchor="start" textLength="22.4" lengthAdjust="spacingAndGlyphs" fill="#000" stroke="#000" stroke-width="0.45">1035</text>
<line x1="113.45" y1="561.5" x2="116.45" y2="561.5" stroke="#000" stroke-width="1"/>
<text x="110.95" y="564.8" font-family='"Liberation Serif", serif' font-size="10" font-style="italic" text-anchor="end" textLength="22.4" lengthAdjust="spacingAndGlyphs" fill="#000" stroke="#000" stroke-width="0.45">1040</text>
<line x1="1221.97" y1="561.5" x2="1224.97" y2="561.5" stroke="#000" stroke-width="1"/>
<text x="1227.97" y="564.8" font-family='"Liberation Serif", serif' font-size="10" font-style="italic" text-anchor="start" textLength="22.4" lengthAdjust="spacingAndGlyphs" fill="#000" stroke="#000" stroke-width="0.45">1040</text>
<line x1="113.45" y1="832.5" x2="116.45" y2="832.5" stroke="#000" stroke-width="1"/>
<text x="110.95" y="836" font-family='"Liberation Serif", serif' font-size="10.5" font-style="italic" text-anchor="end" fill="#000" stroke="#000" stroke-width="0.45">0</text>
<line x1="1221.97" y1="832.5" x2="1224.97" y2="832.5" stroke="#000" stroke-width="1"/>
<text x="1227.97" y="836" font-family='"Liberation Serif", serif' font-size="10.5" font-style="italic" text-anchor="start" fill="#000" stroke="#000" stroke-width="0.45">0</text>
<line x1="113.45" y1="819.1" x2="116.45" y2="819.1" stroke="#000" stroke-width="1"/>
<text x="110.95" y="822.6" font-family='"Liberation Serif", serif' font-size="10.5" font-style="italic" text-anchor="end" fill="#000" stroke="#000" stroke-width="0.45">1</text>
<line x1="1221.97" y1="819.1" x2="1224.97" y2="819.1" stroke="#000" stroke-width="1"/>
<text x="1227.97" y="822.6" font-family='"Liberation Serif", serif' font-size="10.5" font-style="italic" text-anchor="start" fill="#000" stroke="#000" stroke-width="0.45">1</text>
<line x1="113.45" y1="805.7" x2="116.45" y2="805.7" stroke="#000" stroke-width="1"/>
<text x="110.95" y="809.2" font-family='"Liberation Serif", serif' font-size="10.5" font-style="italic" text-anchor="end" fill="#000" stroke="#000" stroke-width="0.45">2</text>
<line x1="1221.97" y1="805.7" x2="1224.97" y2="805.7" stroke="#000" stroke-width="1"/>
<text x="1227.97" y="809.2" font-family='"Liberation Serif", serif' font-size="10.5" font-style="italic" text-anchor="start" fill="#000" stroke="#000" stroke-width="0.45">2</text>
<line x1="113.45" y1="792.3" x2="116.45" y2="792.3" stroke="#000" stroke-width="1"/>
<text x="110.95" y="795.8" font-family='"Liberation Serif", serif' font-size="10.5" font-style="italic" text-anchor="end" fill="#000" stroke="#000" stroke-width="0.45">3</text>
<line x1="1221.97" y1="792.3" x2="1224.97" y2="792.3" stroke="#000" stroke-width="1"/>
<text x="1227.97" y="795.8" font-family='"Liberation Serif", serif' font-size="10.5" font-style="italic" text-anchor="start" fill="#000" stroke="#000" stroke-width="0.45">3</text>
<line x1="113.45" y1="778.9" x2="116.45" y2="778.9" stroke="#000" stroke-width="1"/>
<text x="110.95" y="782.4" font-family='"Liberation Serif", serif' font-size="10.5" font-style="italic" text-anchor="end" fill="#000" stroke="#000" stroke-width="0.45">4</text>
<line x1="1221.97" y1="778.9" x2="1224.97" y2="778.9" stroke="#000" stroke-width="1"/>
<text x="1227.97" y="782.4" font-family='"Liberation Serif", serif' font-size="10.5" font-style="italic" text-anchor="start" fill="#000" stroke="#000" stroke-width="0.45">4</text>
<line x1="113.45" y1="765.5" x2="116.45" y2="765.5" stroke="#000" stroke-width="1"/>
<text x="110.95" y="769" font-family='"Liberation Serif", serif' font-size="10.5" font-style="italic" text-anchor="end" fill="#000" stroke="#000" stroke-width="0.45">5</text>
<line x1="1221.97" y1="765.5" x2="1224.97" y2="765.5" stroke="#000" stroke-width="1"/>
<text x="1227.97" y="769" font-family='"Liberation Serif", serif' font-size="10.5" font-style="italic" text-anchor="start" fill="#000" stroke="#000" stroke-width="0.45">5</text>
<line x1="113.45" y1="1006.5" x2="116.45" y2="1006.5" stroke="#000" stroke-width="1"/>
<text x="110.95" y="1010" font-family='"Liberation Serif", serif' font-size="10.5" font-style="italic" text-anchor="end" fill="#000" stroke="#000" stroke-width="0.45">0</text>
<line x1="1221.97" y1="1006.5" x2="1224.97" y2="1006.5" stroke="#000" stroke-width="1"/>
<text x="1227.97" y="1010" font-family='"Liberation Serif", serif' font-size="10.5" font-style="italic" text-anchor="start" fill="#000" stroke="#000" stroke-width="0.45">0</text>
<line x1="113.45" y1="989.94" x2="116.45" y2="989.94" stroke="#000" stroke-width="1"/>
<text x="110.95" y="993.44" font-family='"Liberation Serif", serif' font-size="10.5" font-style="italic" text-anchor="end" fill="#000" stroke="#000" stroke-width="0.45">2</text>
<line x1="1221.97" y1="989.94" x2="1224.97" y2="989.94" stroke="#000" stroke-width="1"/>
<text x="1227.97" y="993.44" font-family='"Liberation Serif", serif' font-size="10.5" font-style="italic" text-anchor="start" fill="#000" stroke="#000" stroke-width="0.45">2</text>
<line x1="113.45" y1="973.38" x2="116.45" y2="973.38" stroke="#000" stroke-width="1"/>
<text x="110.95" y="976.88" font-family='"Liberation Serif", serif' font-size="10.5" font-style="italic" text-anchor="end" fill="#000" stroke="#000" stroke-width="0.45">4</text>
<line x1="1221.97" y1="973.38" x2="1224.97" y2="973.38" stroke="#000" stroke-width="1"/>
<text x="1227.97" y="976.88" font-family='"Liberation Serif", serif' font-size="10.5" font-style="italic" text-anchor="start" fill="#000" stroke="#000" stroke-width="0.45">4</text>
<line x1="113.45" y1="956.82" x2="116.45" y2="956.82" stroke="#000" stroke-width="1"/>
<text x="110.95" y="960.32" font-family='"Liberation Serif", serif' font-size="10.5" font-style="italic" text-anchor="end" fill="#000" stroke="#000" stroke-width="0.45">6</text>
<line x1="1221.97" y1="956.82" x2="1224.97" y2="956.82" stroke="#000" stroke-width="1"/>
<text x="1227.97" y="960.32" font-family='"Liberation Serif", serif' font-size="10.5" font-style="italic" text-anchor="start" fill="#000" stroke="#000" stroke-width="0.45">6</text>
<line x1="113.45" y1="940.26" x2="116.45" y2="940.26" stroke="#000" stroke-width="1"/>
<text x="110.95" y="943.76" font-family='"Liberation Serif", serif' font-size="10.5" font-style="italic" text-anchor="end" fill="#000" stroke="#000" stroke-width="0.45">8</text>
<line x1="1221.97" y1="940.26" x2="1224.97" y2="940.26" stroke="#000" stroke-width="1"/>
<text x="1227.97" y="943.76" font-family='"Liberation Serif", serif' font-size="10.5" font-style="italic" text-anchor="start" fill="#000" stroke="#000" stroke-width="0.45">8</text>
<line x1="113.45" y1="923.7" x2="116.45" y2="923.7" stroke="#000" stroke-width="1"/>
<text x="110.95" y="927.2" font-family='"Liberation Serif", serif' font-size="10.5" font-style="italic" text-anchor="end" textLength="10.4" lengthAdjust="spacingAndGlyphs" fill="#000" stroke="#000" stroke-width="0.45">10</text>
<line x1="1221.97" y1="923.7" x2="1224.97" y2="923.7" stroke="#000" stroke-width="1"/>
<text x="1227.97" y="927.2" font-family='"Liberation Serif", serif' font-size="10.5" font-style="italic" text-anchor="start" textLength="10.4" lengthAdjust="spacingAndGlyphs" fill="#000" stroke="#000" stroke-width="0.45">10</text>
<line x1="113.45" y1="907.14" x2="116.45" y2="907.14" stroke="#000" stroke-width="1"/>
<text x="110.95" y="910.64" font-family='"Liberation Serif", serif' font-size="10.5" font-style="italic" text-anchor="end" textLength="10.4" lengthAdjust="spacingAndGlyphs" fill="#000" stroke="#000" stroke-width="0.45">12</text>
<line x1="1221.97" y1="907.14" x2="1224.97" y2="907.14" stroke="#000" stroke-width="1"/>
<text x="1227.97" y="910.64" font-family='"Liberation Serif", serif' font-size="10.5" font-style="italic" text-anchor="start" textLength="10.4" lengthAdjust="spacingAndGlyphs" fill="#000" stroke="#000" stroke-width="0.45">12</text>
<text x="116.45" y="540" font-family='"Liberation Serif", serif' font-size="15" font-style="italic" text-anchor="middle" textLength="8.5" lengthAdjust="spacingAndGlyphs" fill="#000" stroke="#000" stroke-width="0.12">6</text>
<text x="158.97" y="540" font-family='"Liberation Serif", serif' font-size="15" font-style="italic" text-anchor="middle" textLength="8.5" lengthAdjust="spacingAndGlyphs" fill="#000" stroke="#000" stroke-width="0.12">9</text>
<text x="201.49" y="540" font-family='"Liberation Serif", serif' font-size="15" font-style="italic" text-anchor="middle" textLength="20" lengthAdjust="spacingAndGlyphs" fill="#000" stroke="#000" stroke-width="0.12">12</text>
<text x="244.01" y="540" font-family='"Liberation Serif", serif' font-size="15" font-style="italic" text-anchor="middle" textLength="20" lengthAdjust="spacingAndGlyphs" fill="#000" stroke="#000" stroke-width="0.12">15</text>
<text x="286.53" y="540" font-family='"Liberation Serif", serif' font-size="15" font-style="italic" text-anchor="middle" textLength="20" lengthAdjust="spacingAndGlyphs" fill="#000" stroke="#000" stroke-width="0.12">18</text>
<text x="329.05" y="540" font-family='"Liberation Serif", serif' font-size="15" font-style="italic" text-anchor="middle" textLength="20" lengthAdjust="spacingAndGlyphs" fill="#000" stroke="#000" stroke-width="0.12">21</text>
<text x="371.57" y="540" font-family='"Liberation Serif", serif' font-size="15" font-style="italic" text-anchor="middle" textLength="8.5" lengthAdjust="spacingAndGlyphs" fill="#000" stroke="#000" stroke-width="0.12">0</text>
<text x="414.09" y="540" font-family='"Liberation Serif", serif' font-size="15" font-style="italic" text-anchor="middle" textLength="8.5" lengthAdjust="spacingAndGlyphs" fill="#000" stroke="#000" stroke-width="0.12">3</text>
<text x="456.61" y="540" font-family='"Liberation Serif", serif' font-size="15" font-style="italic" text-anchor="middle" textLength="8.5" lengthAdjust="spacingAndGlyphs" fill="#000" stroke="#000" stroke-width="0.12">6</text>
<text x="499.13" y="540" font-family='"Liberation Serif", serif' font-size="15" font-style="italic" text-anchor="middle" textLength="8.5" lengthAdjust="spacingAndGlyphs" fill="#000" stroke="#000" stroke-width="0.12">9</text>
<text x="541.65" y="540" font-family='"Liberation Serif", serif' font-size="15" font-style="italic" text-anchor="middle" textLength="20" lengthAdjust="spacingAndGlyphs" fill="#000" stroke="#000" stroke-width="0.12">12</text>
<text x="584.17" y="540" font-family='"Liberation Serif", serif' font-size="15" font-style="italic" text-anchor="middle" textLength="20" lengthAdjust="spacingAndGlyphs" fill="#000" stroke="#000" stroke-width="0.12">15</text>
<text x="626.69" y="540" font-family='"Liberation Serif", serif' font-size="15" font-style="italic" text-anchor="middle" textLength="20" lengthAdjust="spacingAndGlyphs" fill="#000" stroke="#000" stroke-width="0.12">18</text>
<text x="669.21" y="540" font-family='"Liberation Serif", serif' font-size="15" font-style="italic" text-anchor="middle" textLength="20" lengthAdjust="spacingAndGlyphs" fill="#000" stroke="#000" stroke-width="0.12">21</text>
<text x="711.73" y="540" font-family='"Liberation Serif", serif' font-size="15" font-style="italic" text-anchor="middle" textLength="8.5" lengthAdjust="spacingAndGlyphs" fill="#000" stroke="#000" stroke-width="0.12">0</text>
<text x="754.25" y="540" font-family='"Liberation Serif", serif' font-size="15" font-style="italic" text-anchor="middle" textLength="8.5" lengthAdjust="spacingAndGlyphs" fill="#000" stroke="#000" stroke-width="0.12">3</text>
<text x="796.77" y="540" font-family='"Liberation Serif", serif' font-size="15" font-style="italic" text-anchor="middle" textLength="8.5" lengthAdjust="spacingAndGlyphs" fill="#000" stroke="#000" stroke-width="0.12">6</text>
<text x="839.29" y="540" font-family='"Liberation Serif", serif' font-size="15" font-style="italic" text-anchor="middle" textLength="8.5" lengthAdjust="spacingAndGlyphs" fill="#000" stroke="#000" stroke-width="0.12">9</text>
<text x="881.81" y="540" font-family='"Liberation Serif", serif' font-size="15" font-style="italic" text-anchor="middle" textLength="20" lengthAdjust="spacingAndGlyphs" fill="#000" stroke="#000" stroke-width="0.12">12</text>
<text x="924.33" y="540" font-family='"Liberation Serif", serif' font-size="15" font-style="italic" text-anchor="middle" textLength="20" lengthAdjust="spacingAndGlyphs" fill="#000" stroke="#000" stroke-width="0.12">15</text>
<text x="966.85" y="540" font-family='"Liberation Serif", serif' font-size="15" font-style="italic" text-anchor="middle" textLength="20" lengthAdjust="spacingAndGlyphs" fill="#000" stroke="#000" stroke-width="0.12">18</text>
<text x="1009.37" y="540" font-family='"Liberation Serif", serif' font-size="15" font-style="italic" text-anchor="middle" textLength="20" lengthAdjust="spacingAndGlyphs" fill="#000" stroke="#000" stroke-width="0.12">21</text>
<text x="1051.89" y="540" font-family='"Liberation Serif", serif' font-size="15" font-style="italic" text-anchor="middle" textLength="8.5" lengthAdjust="spacingAndGlyphs" fill="#000" stroke="#000" stroke-width="0.12">0</text>
<text x="1094.41" y="540" font-family='"Liberation Serif", serif' font-size="15" font-style="italic" text-anchor="middle" textLength="8.5" lengthAdjust="spacingAndGlyphs" fill="#000" stroke="#000" stroke-width="0.12">3</text>
<text x="1136.93" y="540" font-family='"Liberation Serif", serif' font-size="15" font-style="italic" text-anchor="middle" textLength="8.5" lengthAdjust="spacingAndGlyphs" fill="#000" stroke="#000" stroke-width="0.12">6</text>
<text x="1179.45" y="540" font-family='"Liberation Serif", serif' font-size="15" font-style="italic" text-anchor="middle" textLength="8.5" lengthAdjust="spacingAndGlyphs" fill="#000" stroke="#000" stroke-width="0.12">9</text>
<text x="1221.97" y="540" font-family='"Liberation Serif", serif' font-size="15" font-style="italic" text-anchor="middle" textLength="20" lengthAdjust="spacingAndGlyphs" fill="#000" stroke="#000" stroke-width="0.12">12</text>
<text x="116.45" y="1020.5" font-family='"Liberation Serif", serif' font-size="15" font-style="italic" text-anchor="middle" textLength="8.5" lengthAdjust="spacingAndGlyphs" fill="#000" stroke="#000" stroke-width="0.12">6</text>
<text x="158.97" y="1020.5" font-family='"Liberation Serif", serif' font-size="15" font-style="italic" text-anchor="middle" textLength="8.5" lengthAdjust="spacingAndGlyphs" fill="#000" stroke="#000" stroke-width="0.12">9</text>
<text x="201.49" y="1020.5" font-family='"Liberation Serif", serif' font-size="15" font-style="italic" text-anchor="middle" textLength="20" lengthAdjust="spacingAndGlyphs" fill="#000" stroke="#000" stroke-width="0.12">12</text>
<text x="244.01" y="1020.5" font-family='"Liberation Serif", serif' font-size="15" font-style="italic" text-anchor="middle" textLength="20" lengthAdjust="spacingAndGlyphs" fill="#000" stroke="#000" stroke-width="0.12">15</text>
<text x="286.53" y="1020.5" font-family='"Liberation Serif", serif' font-size="15" font-style="italic" text-anchor="middle" textLength="20" lengthAdjust="spacingAndGlyphs" fill="#000" stroke="#000" stroke-width="0.12">18</text>
<text x="329.05" y="1020.5" font-family='"Liberation Serif", serif' font-size="15" font-style="italic" text-anchor="middle" textLength="20" lengthAdjust="spacingAndGlyphs" fill="#000" stroke="#000" stroke-width="0.12">21</text>
<text x="371.57" y="1020.5" font-family='"Liberation Serif", serif' font-size="15" font-style="italic" text-anchor="middle" textLength="8.5" lengthAdjust="spacingAndGlyphs" fill="#000" stroke="#000" stroke-width="0.12">0</text>
<text x="414.09" y="1020.5" font-family='"Liberation Serif", serif' font-size="15" font-style="italic" text-anchor="middle" textLength="8.5" lengthAdjust="spacingAndGlyphs" fill="#000" stroke="#000" stroke-width="0.12">3</text>
<text x="456.61" y="1020.5" font-family='"Liberation Serif", serif' font-size="15" font-style="italic" text-anchor="middle" textLength="8.5" lengthAdjust="spacingAndGlyphs" fill="#000" stroke="#000" stroke-width="0.12">6</text>
<text x="499.13" y="1020.5" font-family='"Liberation Serif", serif' font-size="15" font-style="italic" text-anchor="middle" textLength="8.5" lengthAdjust="spacingAndGlyphs" fill="#000" stroke="#000" stroke-width="0.12">9</text>
<text x="541.65" y="1020.5" font-family='"Liberation Serif", serif' font-size="15" font-style="italic" text-anchor="middle" textLength="20" lengthAdjust="spacingAndGlyphs" fill="#000" stroke="#000" stroke-width="0.12">12</text>
<text x="584.17" y="1020.5" font-family='"Liberation Serif", serif' font-size="15" font-style="italic" text-anchor="middle" textLength="20" lengthAdjust="spacingAndGlyphs" fill="#000" stroke="#000" stroke-width="0.12">15</text>
<text x="626.69" y="1020.5" font-family='"Liberation Serif", serif' font-size="15" font-style="italic" text-anchor="middle" textLength="20" lengthAdjust="spacingAndGlyphs" fill="#000" stroke="#000" stroke-width="0.12">18</text>
<text x="669.21" y="1020.5" font-family='"Liberation Serif", serif' font-size="15" font-style="italic" text-anchor="middle" textLength="20" lengthAdjust="spacingAndGlyphs" fill="#000" stroke="#000" stroke-width="0.12">21</text>
<text x="711.73" y="1020.5" font-family='"Liberation Serif", serif' font-size="15" font-style="italic" text-anchor="middle" textLength="8.5" lengthAdjust="spacingAndGlyphs" fill="#000" stroke="#000" stroke-width="0.12">0</text>
<text x="754.25" y="1020.5" font-family='"Liberation Serif", serif' font-size="15" font-style="italic" text-anchor="middle" textLength="8.5" lengthAdjust="spacingAndGlyphs" fill="#000" stroke="#000" stroke-width="0.12">3</text>
<text x="796.77" y="1020.5" font-family='"Liberation Serif", serif' font-size="15" font-style="italic" text-anchor="middle" textLength="8.5" lengthAdjust="spacingAndGlyphs" fill="#000" stroke="#000" stroke-width="0.12">6</text>
<text x="839.29" y="1020.5" font-family='"Liberation Serif", serif' font-size="15" font-style="italic" text-anchor="middle" textLength="8.5" lengthAdjust="spacingAndGlyphs" fill="#000" stroke="#000" stroke-width="0.12">9</text>
<text x="881.81" y="1020.5" font-family='"Liberation Serif", serif' font-size="15" font-style="italic" text-anchor="middle" textLength="20" lengthAdjust="spacingAndGlyphs" fill="#000" stroke="#000" stroke-width="0.12">12</text>
<text x="924.33" y="1020.5" font-family='"Liberation Serif", serif' font-size="15" font-style="italic" text-anchor="middle" textLength="20" lengthAdjust="spacingAndGlyphs" fill="#000" stroke="#000" stroke-width="0.12">15</text>
<text x="966.85" y="1020.5" font-family='"Liberation Serif", serif' font-size="15" font-style="italic" text-anchor="middle" textLength="20" lengthAdjust="spacingAndGlyphs" fill="#000" stroke="#000" stroke-width="0.12">18</text>
<text x="1009.37" y="1020.5" font-family='"Liberation Serif", serif' font-size="15" font-style="italic" text-anchor="middle" textLength="20" lengthAdjust="spacingAndGlyphs" fill="#000" stroke="#000" stroke-width="0.12">21</text>
<text x="1051.89" y="1020.5" font-family='"Liberation Serif", serif' font-size="15" font-style="italic" text-anchor="middle" textLength="8.5" lengthAdjust="spacingAndGlyphs" fill="#000" stroke="#000" stroke-width="0.12">0</text>
<text x="1094.41" y="1020.5" font-family='"Liberation Serif", serif' font-size="15" font-style="italic" text-anchor="middle" textLength="8.5" lengthAdjust="spacingAndGlyphs" fill="#000" stroke="#000" stroke-width="0.12">3</text>
<text x="1136.93" y="1020.5" font-family='"Liberation Serif", serif' font-size="15" font-style="italic" text-anchor="middle" textLength="8.5" lengthAdjust="spacingAndGlyphs" fill="#000" stroke="#000" stroke-width="0.12">6</text>
<text x="1179.45" y="1020.5" font-family='"Liberation Serif", serif' font-size="15" font-style="italic" text-anchor="middle" textLength="8.5" lengthAdjust="spacingAndGlyphs" fill="#000" stroke="#000" stroke-width="0.12">9</text>
<text x="1221.97" y="1020.5" font-family='"Liberation Serif", serif' font-size="15" font-style="italic" text-anchor="middle" textLength="20" lengthAdjust="spacingAndGlyphs" fill="#000" stroke="#000" stroke-width="0.12">12</text>
<text x="192.49" y="555" font-family='"Liberation Serif", serif' font-size="14" text-anchor="start" textLength="17" lengthAdjust="spacingAndGlyphs" fill="#000">03</text>
<text x="219.99" y="555" font-family='"Liberation Sans", sans-serif' font-size="12" text-anchor="start" textLength="24.5" lengthAdjust="spacingAndGlyphs" fill="#000">мая</text>
<text x="532.65" y="555" font-family='"Liberation Serif", serif' font-size="14" text-anchor="start" textLength="17" lengthAdjust="spacingAndGlyphs" fill="#000">04</text>
<text x="560.15" y="555" font-family='"Liberation Sans", sans-serif' font-size="12" text-anchor="start" textLength="24.5" lengthAdjust="spacingAndGlyphs" fill="#000">мая</text>
<text x="872.81" y="555" font-family='"Liberation Serif", serif' font-size="14" text-anchor="start" textLength="17" lengthAdjust="spacingAndGlyphs" fill="#000">05</text>
<text x="900.31" y="555" font-family='"Liberation Sans", sans-serif' font-size="12" text-anchor="start" textLength="24.5" lengthAdjust="spacingAndGlyphs" fill="#000">мая</text>
</g>
<g id="labels">
<text x="111.5" y="81" font-family='"Liberation Sans", sans-serif' font-size="13.5" text-anchor="end" textLength="37.5" lengthAdjust="spacingAndGlyphs" fill="#000">Ветер</text>
<text x="64.5" y="98.6" font-family='"Liberation Serif", serif' font-size="11" font-style="italic" text-anchor="start" textLength="21" lengthAdjust="spacingAndGlyphs" fill="#000" stroke="#000" stroke-width="0.45">500</text>
<text x="91.5" y="98.6" font-family='"Liberation Sans", sans-serif' font-size="11" text-anchor="start" textLength="20.5" lengthAdjust="spacingAndGlyphs" fill="#000">гПа</text>
<text x="1227" y="98.6" font-family='"Liberation Serif", serif' font-size="11" font-style="italic" text-anchor="start" textLength="21" lengthAdjust="spacingAndGlyphs" fill="#000" stroke="#000" stroke-width="0.45">500</text>
<text x="1255" y="98.6" font-family='"Liberation Sans", sans-serif' font-size="11" text-anchor="start" textLength="20" lengthAdjust="spacingAndGlyphs" fill="#000">гПа</text>
<text x="64.5" y="131.6" font-family='"Liberation Serif", serif' font-size="11" font-style="italic" text-anchor="start" textLength="21" lengthAdjust="spacingAndGlyphs" fill="#000" stroke="#000" stroke-width="0.45">700</text>
<text x="91.5" y="131.6" font-family='"Liberation Sans", sans-serif' font-size="11" text-anchor="start" textLength="20.5" lengthAdjust="spacingAndGlyphs" fill="#000">гПа</text>
<text x="1227" y="131.6" font-family='"Liberation Serif", serif' font-size="11" font-style="italic" text-anchor="start" textLength="21" lengthAdjust="spacingAndGlyphs" fill="#000" stroke="#000" stroke-width="0.45">700</text>
<text x="1255" y="131.6" font-family='"Liberation Sans", sans-serif' font-size="11" text-anchor="start" textLength="20" lengthAdjust="spacingAndGlyphs" fill="#000">гПа</text>
<text x="64.5" y="164.9" font-family='"Liberation Serif", serif' font-size="11" font-style="italic" text-anchor="start" textLength="21" lengthAdjust="spacingAndGlyphs" fill="#000" stroke="#000" stroke-width="0.45">850</text>
<text x="91.5" y="164.9" font-family='"Liberation Sans", sans-serif' font-size="11" text-anchor="start" textLength="20.5" lengthAdjust="spacingAndGlyphs" fill="#000">гПа</text>
<text x="1227" y="164.9" font-family='"Liberation Serif", serif' font-size="11" font-style="italic" text-anchor="start" textLength="21" lengthAdjust="spacingAndGlyphs" fill="#000" stroke="#000" stroke-width="0.45">850</text>
<text x="1255" y="164.9" font-family='"Liberation Sans", sans-serif' font-size="11" text-anchor="start" textLength="20" lengthAdjust="spacingAndGlyphs" fill="#000">гПа</text>
<text x="78" y="198.4" font-family='"Liberation Serif", serif' font-size="11" font-style="italic" text-anchor="start" textLength="21" lengthAdjust="spacingAndGlyphs" fill="#000" stroke="#000" stroke-width="0.45">500</text>
<text x="1228" y="198.4" font-family='"Liberation Serif", serif' font-size="11" font-style="italic" text-anchor="start" textLength="21" lengthAdjust="spacingAndGlyphs" fill="#000" stroke="#000" stroke-width="0.45">500</text>
<text x="105.5" y="198.4" font-family='"Liberation Sans", sans-serif' font-size="10" text-anchor="start" textLength="6.5" lengthAdjust="spacingAndGlyphs" fill="#000">м</text>
<text x="1256" y="198.4" font-family='"Liberation Sans", sans-serif' font-size="10" text-anchor="start" textLength="6.5" lengthAdjust="spacingAndGlyphs" fill="#000">м</text>
<text x="79.5" y="231.7" font-family='"Liberation Serif", serif' font-size="11" font-style="italic" text-anchor="start" textLength="13" lengthAdjust="spacingAndGlyphs" fill="#000" stroke="#000" stroke-width="0.45">10</text>
<text x="1229" y="231.7" font-family='"Liberation Serif", serif' font-size="11" font-style="italic" text-anchor="start" textLength="13" lengthAdjust="spacingAndGlyphs" fill="#000" stroke="#000" stroke-width="0.45">10</text>
<text x="105.5" y="231.7" font-family='"Liberation Sans", sans-serif' font-size="10" text-anchor="start" textLength="6.5" lengthAdjust="spacingAndGlyphs" fill="#000">м</text>
<text x="1256" y="231.7" font-family='"Liberation Sans", sans-serif' font-size="10" text-anchor="start" textLength="6.5" lengthAdjust="spacingAndGlyphs" fill="#000">м</text>
<text x="8" y="286.7" font-family='"Liberation Sans", sans-serif' font-size="13.5" text-anchor="start" textLength="78" lengthAdjust="spacingAndGlyphs" fill="#000">Тем–ра(°C)</text>
<text x="40.5" y="315.6" font-family='"Liberation Sans", sans-serif' font-size="10.5" text-anchor="start" textLength="13" lengthAdjust="spacingAndGlyphs" fill="#000">2м</text>
<line x1="11" y1="323.5" x2="82" y2="323.5" stroke="#fa3c3c" stroke-width="1"/>
<text x="26" y="361.5" font-family='"Liberation Serif", serif' font-size="11.5" font-style="italic" font-weight="bold" text-anchor="start" textLength="15" lengthAdjust="spacingAndGlyphs" fill="#000">Td</text>
<text x="53.5" y="361.5" font-family='"Liberation Sans", sans-serif' font-size="10.5" text-anchor="start" textLength="13" lengthAdjust="spacingAndGlyphs" fill="#000">2м</text>
<line x1="11" y1="369.5" x2="78" y2="369.5" stroke="#008000" stroke-width="1" stroke-dasharray="4 2.5"/>
<text x="22.5" y="408" font-family='"Liberation Serif", serif' font-size="11" font-style="italic" text-anchor="start" textLength="21" lengthAdjust="spacingAndGlyphs" fill="#000" stroke="#000" stroke-width="0.45">850</text>
<text x="50" y="408" font-family='"Liberation Sans", sans-serif' font-size="11" text-anchor="start" textLength="20.5" lengthAdjust="spacingAndGlyphs" fill="#000">гПа</text>
<line x1="11" y1="415.5" x2="41" y2="415.5" stroke="#f00082" stroke-width="1"/>
<line x1="52" y1="415.5" x2="82" y2="415.5" stroke="#f00082" stroke-width="1"/>
<text x="22.5" y="454" font-family='"Liberation Serif", serif' font-size="11" font-style="italic" text-anchor="start" textLength="21" lengthAdjust="spacingAndGlyphs" fill="#000" stroke="#000" stroke-width="0.45">700</text>
<text x="50" y="454" font-family='"Liberation Sans", sans-serif' font-size="11" text-anchor="start" textLength="20.5" lengthAdjust="spacingAndGlyphs" fill="#000">гПа</text>
<path d="M11 462.5h19M38 462.5h2M48 462.5h19M75 462.5h2" stroke="#f00082" stroke-width="1" fill="none"/>
<text x="22.5" y="500.5" font-family='"Liberation Serif", serif' font-size="11" font-style="italic" text-anchor="start" textLength="21" lengthAdjust="spacingAndGlyphs" fill="#000" stroke="#000" stroke-width="0.45">500</text>
<text x="50" y="500.5" font-family='"Liberation Sans", sans-serif' font-size="11" text-anchor="start" textLength="20.5" lengthAdjust="spacingAndGlyphs" fill="#000">гПа</text>
<line x1="11" y1="508.5" x2="78" y2="508.5" stroke="#f00082" stroke-width="1" stroke-dasharray="3 2"/>
<text x="22" y="621.2" font-family='"Liberation Sans", sans-serif' font-size="13.5" text-anchor="start" textLength="60" lengthAdjust="spacingAndGlyphs" fill="#000">Давление</text>
<text x="34.5" y="644.5" font-family='"Liberation Sans", sans-serif' font-size="13.5" text-anchor="start" textLength="35" lengthAdjust="spacingAndGlyphs" fill="#000">(гПа)</text>
<text x="24" y="771.5" font-family='"Liberation Sans", sans-serif' font-size="13.5" text-anchor="start" textLength="30" lengthAdjust="spacingAndGlyphs" fill="#000">(мм/</text>
<text x="54" y="771.5" font-family='"Liberation Serif", serif' font-size="13.5" font-style="italic" text-anchor="start" textLength="8" lengthAdjust="spacingAndGlyphs" fill="#000" stroke="#000" stroke-width="0.45">3</text>
<text x="62" y="771.5" font-family='"Liberation Sans", sans-serif' font-size="13.5" text-anchor="start" textLength="18" lengthAdjust="spacingAndGlyphs" fill="#000">ч.)</text>
<text x="27" y="790" font-family='"Liberation Sans", sans-serif' font-size="13.5" text-anchor="start" textLength="48" lengthAdjust="spacingAndGlyphs" fill="#000">Осадки</text>
<text x="24" y="808.5" font-family='"Liberation Sans", sans-serif' font-size="13.5" text-anchor="start" textLength="56" lengthAdjust="spacingAndGlyphs" fill="#000">(мм/1ч.)</text>
<text x="13" y="871.5" font-family='"Liberation Sans", sans-serif' font-size="13.5" text-anchor="start" textLength="76" lengthAdjust="spacingAndGlyphs" fill="#000">Облачность</text>
<text x="13" y="938" font-family='"Liberation Sans", sans-serif' font-size="13.5" text-anchor="start" textLength="78" lengthAdjust="spacingAndGlyphs" fill="#000">Конвективн.</text>
<text x="14" y="959" font-family='"Liberation Sans", sans-serif' font-size="13.5" text-anchor="start" textLength="75" lengthAdjust="spacingAndGlyphs" fill="#000">облачность</text>
<text x="38" y="978.5" font-family='"Liberation Sans", sans-serif' font-size="13.5" text-anchor="start" textLength="27" lengthAdjust="spacingAndGlyphs" fill="#000">(км)</text>
</g>
<g id="wind" clip-path="url(#cw)"><path fill="none" stroke="#8200dc" stroke-width="1" d="
M116.45 94.5L94.66 97.56M94.66 97.56L90.6 88.43M97.73 97.13L95.7 92.56
M130.62 94.5L108.84 97.56M108.84 97.56L104.77 88.43M111.91 97.13L109.87 92.56
M144.8 94.5L124 101.66M124 101.66L118.26 93.47M126.93 100.65L124.06 96.56
M158.97 94.5L140.52 106.48M140.52 106.48L132.97 99.92M143.12 104.79L139.35 101.51
M173.14 94.5L156.05 108.35M156.05 108.35L147.85 102.61M158.46 106.39L150.26 100.66
M187.32 94.5L171.49 109.78M171.49 109.78L162.83 104.78M173.72 107.63L165.06 102.63
M201.49 94.5L186.91 110.98M186.91 110.98L177.89 106.67M188.97 108.66L179.94 104.35
M215.66 94.5L203.88 116.66M203.88 116.66L194.1 114.58M205.33 113.92L195.55 111.85M206.79 111.19L197.01 109.11
M229.84 94.5L217.85 112.95M217.85 112.95L208.29 110.03M219.54 110.35L209.98 107.43
M244.01 94.5L228.9 114.55M228.9 114.55L219.57 110.96M230.77 112.07L221.43 108.49M232.64 109.59L227.97 107.8
M258.18 94.5L247.97 117.43M247.97 117.43L238.07 116.04M249.23 114.6L239.33 113.21M250.5 111.77L240.59 110.37
M272.36 94.5L260.57 116.66M260.57 116.66L250.79 114.58M262.03 113.92L252.25 111.85M263.48 111.19L258.59 110.15
M286.53 94.5L272.13 115.06M272.13 115.06L262.68 111.81M273.91 112.52L264.46 109.27M275.69 109.98L270.96 108.35
M300.7 94.5L291.99 121.32M291.99 121.32L281.99 120.97M292.95 118.37L282.95 118.02M293.9 115.42L283.91 115.07M294.86 112.47L289.87 112.3
M314.88 94.5L304.67 117.43M304.67 117.43L294.76 116.04M305.93 114.6L296.03 113.21M307.19 111.77L297.29 110.37
M329.05 94.5L320.46 118.09M320.46 118.09L310.49 117.39M321.53 115.17L311.55 114.48M322.59 112.26L312.61 111.56
M343.22 94.5L332.38 117.14M332.38 117.14L322.52 115.47M333.72 114.34L323.86 112.67M335.06 111.54L325.2 109.88
M357.4 94.5L348.22 121.16M348.22 121.16L338.23 120.64M349.22 118.23L339.24 117.71M350.23 115.3L340.25 114.78M351.24 112.37L346.25 112.11
M371.57 94.5L359.79 116.66M359.79 116.66L350 114.58M361.24 113.92L351.46 111.85M362.7 111.19L357.81 110.15
M385.74 94.5L375.94 117.6M375.94 117.6L366.01 116.39M377.15 114.75L367.22 113.53M378.36 111.9L368.43 110.68
M399.92 94.5L386.68 119.4M386.68 119.4L376.9 117.32M388.13 116.66L378.35 114.58M389.59 113.92L379.81 111.85M391.04 111.19L386.15 110.15
M414.09 94.5L401.29 119.63M401.29 119.63L391.47 117.72M402.69 116.86L392.88 114.96M404.1 114.1L394.29 112.19M405.51 111.34L400.6 110.39
M428.26 94.5L415.71 116.24M415.71 116.24L406.01 113.82M417.26 113.55L407.56 111.13M418.81 110.87L409.11 108.45
M442.44 94.5L423.71 115.59M423.71 115.59L414.69 111.27M425.77 113.27L416.75 108.95M427.83 110.95L418.81 106.63M429.89 108.63L425.38 106.47
M456.61 94.5L436.05 108.9M436.05 108.9L428.28 102.6M438.59 107.12L430.82 100.83M441.13 105.34L433.36 99.05
M470.78 94.5L445.68 94.5M445.68 94.5L442.93 84.89M448.78 94.5L446.03 84.89M451.88 94.5L449.13 84.89
M484.96 94.5L459.86 94.5M459.86 94.5L457.1 84.89M462.96 94.5L460.2 84.89M466.06 94.5L463.3 84.89
M499.13 94.5L470.95 93.52M470.95 93.52L468.53 83.81M474.04 93.62L471.63 83.92M477.14 93.73L474.72 84.03M480.24 93.84L479.03 88.99
M513.3 94.5L488.26 96.25M488.26 96.25L484.84 86.85M491.36 96.03L487.94 86.64M494.45 95.82L491.03 86.42
M527.48 94.5L499.29 95.48M499.29 95.48L496.2 85.97M502.39 95.38L499.3 85.87M505.49 95.27L502.4 85.76M508.59 95.16L507.04 90.4
M541.65 94.5L516.69 97.12M516.69 97.12L512.94 87.85M519.77 96.8L516.02 87.53M522.85 96.48L519.11 87.2
M555.82 94.5L531.06 98.6M531.06 98.6L526.77 89.57M534.12 98.09L529.83 89.06M537.18 97.59L532.89 88.55
M570 94.5L545.2 98.43M545.2 98.43L540.98 89.36M548.27 97.94L544.04 88.88M551.33 97.46L547.1 88.39
M584.17 94.5L559.87 100.78M559.87 100.78L554.79 92.17M562.87 100.01L557.79 91.39M565.87 99.23L560.8 90.62
M598.34 94.5L574.64 102.75M574.64 102.75L568.87 94.58M577.57 101.74L571.8 93.56M580.49 100.72L574.73 92.54
M612.52 94.5L592.74 104.14M592.74 104.14L586.05 96.71M595.53 102.79L588.84 95.35
M626.69 94.5L607.09 104.49M607.09 104.49L600.27 97.17M609.85 103.08L603.03 95.77
M640.86 94.5L618.58 106.05M618.58 106.05L611.71 98.79M621.33 104.62L614.46 97.36M624.08 103.2L620.65 99.56
M655.04 94.5L635.2 104.01M635.2 104.01L628.56 96.53M637.99 102.67L631.35 95.19
M669.21 94.5L654.11 105.87M654.11 105.87L646.13 99.86
M683.38 94.5L661.6 97.56M661.6 97.56L657.53 88.43M664.67 97.13L660.6 87.99
M697.56 94.5L679.3 99.39M679.3 99.39L674.15 90.82
M711.73 94.5L690.18 90.08M690.18 90.08L689.41 80.11M693.21 90.7L692.45 80.73
M725.9 94.5L702.73 84.85M702.73 84.85L703.88 74.92M705.59 86.05L706.74 76.11M708.45 87.24L709.6 77.3
M740.08 94.5L716.03 87.29M716.03 87.29L716.16 77.29M719 88.18L719.13 78.18M721.97 89.07L722.09 79.07
M754.25 94.5L731.14 84.69M731.14 84.69L732.36 74.77M734 85.9L735.22 75.98M736.85 87.12L738.07 77.19
M768.42 94.5L745.9 77.53M745.9 77.53L749.48 68.19M748.38 79.39L751.96 70.06M750.85 81.26L754.44 71.92M753.33 83.13L756.91 73.79
M782.6 94.5L759.5 78.33M759.5 78.33L762.75 68.87M762.03 80.1L765.29 70.65M764.57 81.88L767.83 72.43M767.11 83.66L770.37 74.2
M796.77 94.5L779.43 80.96M779.43 80.96L783.18 71.68L782.03 82.99
M810.94 94.5L790.64 79.75M790.64 79.75L794.06 70.35L793.31 81.69M795.65 83.39L799.07 73.99
M825.12 94.5L805.07 79.39M805.07 79.39L808.65 70.06L807.7 81.38M810.02 83.13L813.6 73.79
M839.29 94.5L819.4 79.19M819.4 79.19L823.08 69.89L822.02 81.2M824.31 82.97L828 73.67
M853.46 94.5L831.24 77.14M831.24 77.14L834.99 67.87L833.84 79.17M836.13 80.96L839.87 71.68M838.57 82.86L840.44 78.23
M867.63 94.5L847.86 79.05M847.86 79.05L851.6 69.78L850.46 81.08M852.74 82.86L856.49 73.59
M881.81 94.5L858.99 77.92M858.99 77.92L862.41 68.53L861.66 79.86M864.01 81.57L867.43 72.17M866.52 83.39L869.94 73.99
M895.98 94.5L867.99 80.49M867.99 80.49L869.83 70.66M870.77 81.87L872.61 72.04M873.54 83.26L875.38 73.43M876.31 84.65L878.15 74.82M879.08 86.04L880 81.12
M910.15 94.5L888.42 81.95M888.42 81.95L890.84 72.25M891.1 83.5L893.52 73.8M893.79 85.05L896.21 75.35
M924.33 94.5L900.81 78.94M900.81 78.94L903.82 69.4L903.56 80.76M905.98 82.36L908.99 72.82M908.57 84.07L910.07 79.3
M938.5 94.5L919.84 82.84M919.84 82.84L922.6 73.23L922.64 84.59
M952.67 94.5L927.33 82.14M927.33 82.14L929.07 72.29M930.11 83.5L931.85 73.65M932.9 84.86L934.64 75.01M935.69 86.21L937.42 76.37
M966.85 94.5L936.61 86.4M936.61 86.4L936.44 76.4M939.61 87.2L939.43 77.2M942.6 88L942.43 78.01M945.6 88.81L945.42 78.81M948.59 89.61L948.5 84.61
M981.02 94.5L959.05 93.35M959.05 93.35L956.8 83.6L962.35 93.52
M995.19 94.5L973.2 94.12M973.2 94.12L970.61 84.46L976.5 94.17
M1009.37 94.5L981.17 94.5M981.17 94.5L978.41 84.89L984.47 94.5M987.37 94.5L984.61 84.89M990.47 94.5L987.71 84.89
M1023.54 94.5L995.55 91.06M995.55 91.06L993.99 81.19M998.63 91.44L997.06 81.56M1001.71 91.82L1000.14 81.94M1004.78 92.2L1003.22 82.32
M1037.71 94.5L1009.54 93.27M1009.54 93.27L1007.21 83.55M1012.64 93.41L1010.3 83.68M1015.74 93.54L1013.4 83.82M1018.83 93.68L1016.5 83.95
M1051.89 94.5L1023.69 94.5M1023.69 94.5L1020.93 84.89M1026.79 94.5L1024.03 84.89M1029.89 94.5L1027.13 84.89M1032.99 94.5L1030.23 84.89
M1066.06 94.5L1040.96 94.94M1040.96 94.94L1038.04 85.38M1044.06 94.88L1041.14 85.32M1047.16 94.83L1044.24 85.27
M1080.23 94.5L1055.14 95.11M1055.14 95.11L1052.15 85.57M1058.24 95.04L1055.25 85.5M1061.34 94.96L1058.35 85.42
M1094.41 94.5L1069.32 95.38M1069.32 95.38L1066.23 85.87M1072.42 95.27L1069.33 85.76M1075.52 95.16L1072.43 85.65
M1108.58 94.5L1083.55 96.38M1083.55 96.38L1080.08 87M1086.64 96.15L1083.17 86.77M1089.73 95.92L1086.26 86.54
M1122.75 94.5L1097.67 95.38M1097.67 95.38L1094.58 85.87M1100.77 95.27L1097.68 85.76M1103.87 95.16L1100.78 85.65
M1136.93 94.5L1111.92 96.69M1111.92 96.69L1108.34 87.35M1115.01 96.42L1111.43 87.08M1118.1 96.15L1114.52 86.81
M1151.1 94.5L1126.1 96.69M1126.1 96.69L1122.51 87.35M1129.18 96.42L1125.6 87.08M1132.27 96.15L1128.69 86.81
M1165.27 94.5L1144.39 101.41M1144.39 101.41L1138.75 93.15M1147.33 100.43L1141.69 92.17
M1179.45 94.5L1159.95 104.69M1159.95 104.69L1153.05 97.45M1162.7 103.26L1155.8 96.01
M1193.62 94.5L1174.02 104.49M1174.02 104.49L1167.2 97.17M1176.78 103.08L1169.96 95.77
M1207.79 94.5L1188.55 105.17M1188.55 105.17L1181.48 98.09M1191.26 103.66L1184.19 96.59
M1221.97 94.5L1204.63 108.04M1204.63 108.04L1196.54 102.17M1207.07 106.14L1198.98 100.26
M116.45 128.3L96.85 138.29M96.85 138.29L90.03 130.97M99.61 136.88L92.79 129.57
M130.62 128.3L111.02 138.29M111.02 138.29L104.2 130.97M113.78 136.88L106.96 129.57
M144.8 128.3L127.94 142.44M127.94 142.44L119.65 136.85M130.32 140.45L122.03 134.86
M158.97 128.3L148.64 147.72M148.64 147.72L138.86 145.65M150.1 144.99L140.32 142.91
M173.14 128.3L164.3 148.44M164.3 148.44L154.39 147.1M165.55 145.61L155.64 144.27
M187.32 128.3L179.56 152.17M179.56 152.17L169.57 151.82M180.52 149.22L170.52 148.87M181.48 146.27L176.48 146.1
M201.49 128.3L196.54 149.74M196.54 149.74L186.55 150.26M197.24 146.72L187.25 147.24
M215.66 128.3L213.91 153.34M213.91 153.34L204.13 155.42M214.13 150.25L204.35 152.33M214.34 147.15L209.45 148.19
M229.84 128.3L229.84 153.4M229.84 153.4L220.22 156.16M229.84 150.3L220.22 153.06M229.84 147.2L220.22 149.96
M244.01 128.3L244.01 156.5M244.01 156.5L234.4 159.26M244.01 153.4L234.4 156.16M244.01 150.3L234.4 153.06M244.01 147.2L239.2 148.58
M258.18 128.3L258.18 153.4M258.18 153.4L248.57 156.16M258.18 150.3L248.57 153.06M258.18 147.2L248.57 149.96
M272.36 128.3L269.3 153.21M269.3 153.21L259.42 154.78M269.68 150.14L259.8 151.7M270.05 147.06L260.18 148.62
M286.53 128.3L284.56 156.43M284.56 156.43L274.78 158.51M284.78 153.34L275 155.42M284.99 150.25L275.21 152.33M285.21 147.15L280.32 148.19
M300.7 128.3L292.46 148.7M292.46 148.7L282.52 147.65M293.62 145.82L283.68 144.78
M314.88 128.3L310.3 149.82M310.3 149.82L300.33 150.52M310.95 146.79L300.97 147.48
M329.05 128.3L322.99 149.45M322.99 149.45L312.99 149.45M323.84 146.47L313.84 146.47
M343.22 128.3L338 152.85M338 152.85L328.03 153.55M338.65 149.82L328.67 150.52M339.29 146.79L334.31 147.14
M357.4 128.3L358.71 153.37M358.71 153.37L349.25 156.62M358.55 150.27L349.09 153.53M358.39 147.17L348.93 150.43
M371.57 128.3L368.38 156.32M368.38 156.32L358.51 157.97M368.73 153.24L358.87 154.89M369.08 150.16L359.22 151.81M369.43 147.08L364.5 147.9
M385.74 128.3L371.49 148.96M371.49 148.96L362.01 145.77M373.25 146.41L363.77 143.22M375.01 143.86L370.27 142.26
M399.92 128.3L384.92 148.42M384.92 148.42L375.56 144.89M386.77 145.94L377.41 142.4M388.62 143.45L383.94 141.69
M414.09 128.3L397.62 147.24M397.62 147.24L388.56 143.02M399.66 144.9L390.59 140.68M401.69 142.56L397.16 140.45
M428.26 128.3L412.71 143.86M412.71 143.86L403.96 139.01M414.9 141.66L406.15 136.82
M442.44 128.3L425.58 142.44M425.58 142.44L417.29 136.85M427.96 140.45L419.67 134.86
M456.61 128.3L436.21 136.54M436.21 136.54L430.05 128.66M439.09 135.38L432.93 127.5
M470.78 128.3L448.8 129.07M448.8 129.07L445.71 119.56M451.89 128.96L448.8 119.45
M484.96 128.3L459.87 129.18M459.87 129.18L456.78 119.67M462.97 129.07L459.88 119.56M466.07 128.96L464.52 124.2
M499.13 128.3L474.03 128.74M474.03 128.74L471.11 119.18M477.13 128.68L474.21 119.12M480.23 128.63L478.77 123.85
M513.3 128.3L491.52 125.24M491.52 125.24L490.12 115.34M494.59 125.67L493.19 115.77
M527.48 128.3L505.6 126M505.6 126L503.86 116.15M508.68 126.32L506.94 116.48
M541.65 128.3L516.55 127.86M516.55 127.86L513.96 118.2M519.65 127.92L517.06 118.26M522.75 127.97L521.46 123.14
M555.82 128.3L530.72 128.3M530.72 128.3L527.97 118.69M533.82 128.3L531.07 118.69M536.92 128.3L535.54 123.49
M570 128.3L544.9 128.3M544.9 128.3L542.14 118.69M548 128.3L545.24 118.69M551.1 128.3L549.72 123.49
M584.17 128.3L559.07 128.3M559.07 128.3L556.31 118.69M562.17 128.3L559.41 118.69M565.27 128.3L562.51 118.69
M598.34 128.3L573.25 128.74M573.25 128.74L570.32 119.18M576.35 128.68L573.42 119.12M579.45 128.63L576.52 119.07
M612.52 128.3L587.72 132.23M587.72 132.23L583.5 123.16M590.79 131.74L586.56 122.68M593.85 131.26L589.62 122.19
M626.69 128.3L602.23 133.95M602.23 133.95L597.38 125.2M605.25 133.25L600.4 124.5M608.27 132.55L603.43 123.81
M640.86 128.3L616.22 133.09M616.22 133.09L611.68 124.18M619.27 132.5L614.73 123.59M622.31 131.91L617.77 123
M655.04 128.3L633.54 132.99M633.54 132.99L628.8 124.18M636.57 132.33L634.2 127.92
M669.21 128.3L644.19 130.27M644.19 130.27L640.68 120.9M647.28 130.03L643.77 120.66M650.37 129.78L646.86 120.42
M683.38 128.3L661.44 126.77M661.44 126.77L659.36 116.98M664.53 126.98L662.45 117.2
M697.56 128.3L678.06 118.11M678.06 118.11L680.07 108.31M680.81 119.54L682.82 109.75
M711.73 128.3L690.69 121.87M690.69 121.87L690.86 111.87M693.65 122.77L693.83 112.78
M725.9 128.3L703.27 117.45M703.27 117.45L704.93 107.59M706.06 118.79L707.73 108.93M708.86 120.13L710.52 110.27
M740.08 128.3L716.64 119.3M716.64 119.3L717.51 109.34M719.54 120.42L720.41 110.45M722.43 121.53L723.3 111.56
M754.25 128.3L730.52 120.13M730.52 120.13L731.04 110.14M733.45 121.14L733.97 111.15M736.38 122.15L736.64 117.15
M768.42 128.3L746.62 115.86M746.62 115.86L748.99 106.15M749.31 117.4L751.68 107.68M752 118.94L753.19 114.08
M782.6 128.3L765.16 110.24M765.16 110.24L770.16 101.58M767.31 112.47L772.31 103.81M769.47 114.7L774.47 106.04
M796.77 128.3L776.46 113.55M776.46 113.55L779.88 104.15M778.97 115.37L782.39 105.97M781.48 117.19L784.9 107.79
M810.94 128.3L787.56 112.53M787.56 112.53L790.65 103.02M790.13 114.26L793.22 104.75M792.7 116L795.79 106.49M795.27 117.73L798.36 108.22
M825.12 128.3L800.89 113.86M800.89 113.86L803.45 104.19M803.56 115.45L806.11 105.78M806.22 117.04L808.77 107.37M808.88 118.62L810.16 113.79
M839.29 128.3L817.02 116.71M817.02 116.71L819.02 106.91M819.77 118.14L821.77 108.34M822.52 119.57L824.52 109.77
M853.46 128.3L830.79 117.53M830.79 117.53L832.42 107.67M833.59 118.86L835.22 109M836.39 120.19L838.02 110.33
M867.63 128.3L844.2 119.3M844.2 119.3L845.07 109.34M847.1 120.42L847.97 110.45M849.99 121.53L850.86 111.56
M881.81 128.3L858.54 118.9M858.54 118.9L859.58 108.95M861.41 120.06L862.46 110.11M864.28 121.22L865.33 111.27
M895.98 128.3L873.18 117.81M873.18 117.81L874.69 107.93M875.99 119.11L877.51 109.22M878.81 120.4L880.32 110.52
M910.15 128.3L884.39 116.83M884.39 116.83L885.78 106.93M887.22 118.09L888.62 108.19M890.06 119.35L891.45 109.45M892.89 120.61L894.28 110.71
M924.33 128.3L896.6 123.16M896.6 123.16L895.64 113.21M899.65 123.73L898.69 113.77M902.7 124.29L901.74 114.34M905.74 124.86L904.79 114.9
M938.5 128.3L913.5 126.11M913.5 126.11L911.59 116.3M916.59 126.38L914.68 116.57M919.67 126.65L917.77 116.84
M952.67 128.3L927.64 126.55M927.64 126.55L925.56 116.77M930.73 126.77L928.65 116.98M933.82 126.98L931.74 117.2
M966.85 128.3L941.78 126.99M941.78 126.99L939.53 117.24M944.88 127.15L942.63 117.4M947.97 127.31L945.72 117.57
M981.02 128.3L952.82 128.05M952.82 128.05L950.15 118.42M955.92 128.08L953.25 118.44M959.02 128.11L956.35 118.47M962.12 128.14L959.45 118.5
M995.19 128.3L967 128.79M967 128.79L964.08 119.23M970.1 128.74L967.17 119.18M973.2 128.68L970.27 119.12M976.3 128.63L973.37 119.07
M1009.37 128.3L987.37 128.3M987.37 128.3L984.61 118.69L990.67 128.3
M1023.54 128.3L992.28 126.66M992.28 126.66L990.03 116.92M995.38 126.82L993.13 117.08M998.48 126.99L996.23 117.24M1001.57 127.15L999.32 117.4M1004.67 127.31L1003.54 122.44
M1037.71 128.3L1009.55 126.92M1009.55 126.92L1007.26 117.19M1012.64 127.07L1010.36 117.34M1015.74 127.23L1013.46 117.49M1018.84 127.38L1016.55 117.64
M1051.89 128.3L1023.69 128.05M1023.69 128.05L1021.02 118.42M1026.79 128.08L1024.12 118.44M1029.89 128.11L1027.22 118.47M1032.99 128.14L1030.32 118.5
M1066.06 128.3L1037.87 128.79M1037.87 128.79L1034.94 119.23M1040.96 128.74L1038.04 119.18M1044.06 128.68L1041.14 119.12M1047.16 128.63L1044.24 119.07
M1080.23 128.3L1052.05 129.28M1052.05 129.28L1048.96 119.77M1055.15 129.18L1052.06 119.67M1058.25 129.07L1055.16 119.56M1061.35 128.96L1059.8 124.2
M1094.41 128.3L1069.33 129.39M1069.33 129.39L1066.16 119.91M1072.43 129.26L1069.26 119.78M1075.53 129.12L1072.35 119.64
M1108.58 128.3L1083.54 130.05M1083.54 130.05L1080.12 120.65M1086.63 129.83L1083.21 120.44M1089.73 129.62L1086.31 120.22
M1122.75 128.3L1098.07 132.87M1098.07 132.87L1093.61 123.92M1101.12 132.31L1096.66 123.36M1104.17 131.74L1099.71 122.79
M1136.93 128.3L1112.29 133.09M1112.29 133.09L1107.75 124.18M1115.33 132.5L1110.79 123.59M1118.37 131.91L1113.83 123
M1151.1 128.3L1127.28 136.22M1127.28 136.22L1121.63 127.97M1130.23 135.24L1124.58 126.99M1133.17 134.27L1130.34 130.14
M1165.27 128.3L1142.17 138.11M1142.17 138.11L1135.88 130.34M1145.02 136.9L1138.73 129.12M1147.88 135.68L1144.73 131.8
M1179.45 128.3L1160.06 138.7M1160.06 138.7L1153.09 131.53M1162.79 137.23L1155.82 130.06
M1193.62 128.3L1173.16 142.84M1173.16 142.84L1165.35 136.6M1175.69 141.04L1167.87 134.81M1178.21 139.25L1170.4 133.01
M1207.79 128.3L1189.02 139.76M1189.02 139.76L1181.66 132.99M1191.66 138.15L1184.3 131.38
M1221.97 128.3L1202.22 143.79M1202.22 143.79L1194.11 137.92M1204.65 141.87L1196.55 136.01M1207.09 139.96L1198.99 134.1
M116.45 162L115.68 183.99M115.68 183.99L105.98 186.41M115.79 180.89L106.09 183.31
M130.62 162L129.47 183.97M129.47 183.97L119.73 186.22M129.63 180.87L119.89 183.12
M144.8 162L139.47 183.35M139.47 183.35L129.48 183.7M140.22 180.34L130.23 180.69
M158.97 162L153.65 183.35M153.65 183.35L143.65 183.7M154.4 180.34L149.4 180.51
M173.14 162L168.95 183.6M168.95 183.6L158.98 184.47M169.54 180.55L164.56 180.99
M187.32 162L184.69 186.96M184.69 186.96L174.84 188.7M185.02 183.88L175.17 185.62M185.34 180.8L180.42 181.66
M201.49 162L201.93 187.1M201.93 187.1L192.36 190.02M201.87 184L192.31 186.92M201.82 180.9L192.26 183.82
M215.66 162L215.66 187.1M215.66 187.1L206.05 189.86M215.66 184L206.05 186.76M215.66 180.9L206.05 183.66
M229.84 162L230.71 187.08M230.71 187.08L221.2 190.17M230.6 183.99L221.09 187.08M230.5 180.89L220.99 183.98
M244.01 162L246.71 190.07M246.71 190.07L237.41 193.74M246.42 186.98L237.11 190.65M246.12 183.9L236.81 187.56M245.82 180.81L241.17 182.65
M258.18 162L261.13 190.05M261.13 190.05L251.86 193.79M260.81 186.96L251.53 190.71M260.48 183.88L251.21 187.63M260.16 180.8L255.52 182.67
M272.36 162L277.88 189.65M277.88 189.65L269 194.24M277.27 186.61L268.39 191.2M276.67 183.57L267.78 188.16M276.06 180.53L267.17 185.12
M286.53 162L285.55 190.18M285.55 190.18L275.84 192.6M285.65 187.08L275.95 189.5M285.76 183.99L276.06 186.41M285.87 180.89L276.17 183.31
M300.7 162L296.51 183.6M296.51 183.6L286.54 184.47M297.1 180.55L287.13 181.42
M314.88 162L310.95 186.79M310.95 186.79L301.02 188.01M311.43 183.73L301.51 184.95M311.92 180.67L306.96 181.28
M329.05 162L326.43 186.96M326.43 186.96L316.58 188.7M326.75 183.88L316.9 185.62M327.07 180.8L322.15 181.66
M343.22 162L336.73 186.24M336.73 186.24L326.73 186.42M337.53 183.25L327.53 183.42M338.33 180.26L333.33 180.34
M357.4 162L346.73 181.24M346.73 181.24L336.99 178.99M348.23 178.53L338.49 176.28
M371.57 162L358.33 179.57M358.33 179.57L348.99 175.99M360.2 177.09L350.86 173.51
M385.74 162L371.6 178.85M371.6 178.85L362.47 174.79M373.59 176.48L364.46 172.41
M399.92 162L385.02 173.64M385.02 173.64L376.93 167.76
M414.09 162L397.46 170.99M397.46 170.99L390.47 163.84
M428.26 162L415.86 176.26M415.86 176.26L406.8 172.04
M442.44 162L431.06 177.09M431.06 177.09L421.73 173.51
M456.61 162L435.63 155.38M435.63 155.38L435.89 145.39M438.58 156.32L438.85 146.32
M470.78 162L449.74 155.57M449.74 155.57L449.92 145.57M452.71 156.47L452.88 146.48
M484.96 162L463.17 158.94M463.17 158.94L461.78 149.04M466.24 159.37L464.85 149.47
M499.13 162L477.21 160.08M477.21 160.08L475.3 150.27M480.3 160.35L478.39 150.54
M513.3 162L491.39 160.08M491.39 160.08L489.48 150.27M494.47 160.35L492.57 150.54
M527.48 162L505.56 160.08M505.56 160.08L503.65 150.27M508.65 160.35L506.74 150.54
M541.65 162L519.66 161.23M519.66 161.23L517.24 151.53M522.76 161.34L521.55 156.49
M555.82 162L535.42 170.24M535.42 170.24L529.27 162.36M538.3 169.08L532.14 161.2
M570 162L545.03 164.62M545.03 164.62L541.29 155.35M548.12 164.3L544.37 155.03M551.2 163.98L547.45 154.7
M584.17 162L559.1 163.31M559.1 163.31L555.85 153.86M562.2 163.15L558.94 153.7M565.29 162.99L562.04 153.53
M598.34 162L573.38 159.38M573.38 159.38L571.64 149.53M576.46 159.7L574.73 149.85M579.55 160.02L577.81 150.18
M612.52 162L590.57 160.47M590.57 160.47L588.49 150.68M593.66 160.68L591.58 150.9
M626.69 162L604.72 163.15M604.72 163.15L601.46 153.7M607.81 162.99L604.56 153.53
M640.86 162L618.98 164.3M618.98 164.3L615.24 155.03M622.07 163.98L618.32 154.7
M655.04 162L633.37 158.18M633.37 158.18L632.32 148.23M636.42 158.72L635.38 148.77
M669.21 162L650.95 157.11M650.95 157.11L650.78 147.11
M683.38 162L661.47 160.08M661.47 160.08L659.56 150.27M664.55 160.35L662.65 150.54
M697.56 162L676.5 148.33M676.5 148.33L679.43 138.77M679.1 150.02L682.03 140.45M681.7 151.71L684.63 142.14
M711.73 162L688.8 151.79M688.8 151.79L690.19 141.89M691.63 153.05L693.02 143.15M694.46 154.31L695.85 144.41
M725.9 162L702.56 152.76M702.56 152.76L703.54 142.81M705.45 153.9L706.42 143.95M708.33 155.04L708.82 150.07
M740.08 162L719.51 147.6M719.51 147.6L722.77 138.15M722.05 149.38L725.31 139.93M724.59 151.16L727.85 141.7
M754.25 162L733.2 148.33M733.2 148.33L736.12 138.77M735.8 150.02L738.72 140.45M738.4 151.71L741.32 142.14
M768.42 162L747.61 147.96M747.61 147.96L750.7 138.45M750.18 149.7L753.27 140.19M752.75 151.43L755.84 141.92
M782.6 162L760.86 149.45M760.86 149.45L763.28 139.75M763.54 151L765.96 141.3M766.23 152.55L767.44 147.7
M796.77 162L777.91 150.67M777.91 150.67L780.5 141.01M780.57 152.27L783.16 142.61
M810.94 162L791.33 146.34M791.33 146.34L795.17 137.11M793.75 148.27L797.59 139.04M796.17 150.21L800.01 140.98
M825.12 162L805.69 151.67M805.69 151.67L807.77 141.89M808.43 153.13L810.51 143.35
M839.29 162L819.32 152.77M819.32 152.77L820.85 142.89M822.13 154.07L822.9 149.13
M853.46 162L831.8 158.18M831.8 158.18L830.75 148.23M834.85 158.72L833.8 148.77
M867.63 162L850.11 154.92M850.11 154.92L851.16 144.97
M881.81 162L859.86 160.47M859.86 160.47L857.78 150.68M862.95 160.68L860.88 150.9
M895.98 162L874.12 159.51M874.12 159.51L872.47 149.65M877.2 159.86L875.55 150
M910.15 162L888.87 167.55M888.87 167.55L883.77 158.94M891.87 166.76L886.77 158.16
M924.33 162L903.53 169.16M903.53 169.16L897.79 160.97M906.46 168.15L900.72 159.96
M938.5 162L924.3 174.47M924.3 174.47L915.89 169.07
M952.67 162L937.76 178.17M937.76 178.17L928.82 173.67M939.86 175.89L930.92 171.4
M966.85 162L951.02 177.28M951.02 177.28L942.36 172.28M953.25 175.13L944.59 170.13
M981.02 162L957.75 171.4M957.75 171.4L951.59 163.52M960.62 170.24L954.47 162.36M963.5 169.08L957.34 161.2
M995.19 162L974.47 169.38M974.47 169.38L968.65 161.25M977.39 168.34L971.57 160.21
M1009.37 162L984.45 165.06M984.45 165.06L980.55 155.85M987.53 164.68L983.62 155.48M990.61 164.3L986.7 155.1
M1023.54 162L998.58 159.38M998.58 159.38L996.84 149.53M1001.66 159.7L999.93 149.85M1004.74 160.02L1003.01 150.18
M1037.71 162L1012.75 159.38M1012.75 159.38L1011.02 149.53M1015.84 159.7L1014.1 149.85M1018.92 160.02L1017.18 150.18
M1051.89 162L1026.88 159.81M1026.88 159.81L1024.98 150M1029.97 160.08L1028.06 150.27M1033.06 160.35L1031.15 150.54
M1066.06 162L1041.01 160.38M1041.01 160.38L1038.88 150.61M1044.11 160.58L1041.98 150.81M1047.2 160.78L1045.07 151.01
M1080.23 162L1058.35 164.3M1058.35 164.3L1054.61 155.03M1061.44 163.98L1057.69 154.7
M1094.41 162L1070.34 169.13M1070.34 169.13L1064.97 160.69M1073.31 168.25L1067.94 159.81M1076.29 167.37L1073.6 163.15
M1108.58 162L1087.99 169.74M1087.99 169.74L1082.03 161.71M1090.89 168.65L1084.93 160.62
M1122.75 162L1102.22 169.88M1102.22 169.88L1096.2 161.9M1105.11 168.77L1099.09 160.79
M1136.93 162L1114.37 173M1114.37 173L1107.68 165.57M1117.15 171.64L1110.46 164.21M1119.94 170.29L1113.25 162.85
M1151.1 162L1127.51 170.58M1127.51 170.58L1121.64 162.49M1130.43 169.52L1124.55 161.43M1133.34 168.46L1130.4 164.42
M1165.27 162L1141.2 169.09M1141.2 169.09L1135.84 160.64M1144.17 168.21L1138.81 159.77M1147.14 167.34L1144.46 163.11
M1179.45 162L1155.01 167.73M1155.01 167.73L1150.13 159M1158.03 167.02L1153.15 158.29M1161.05 166.32L1158.61 161.95
M1193.62 162L1170.06 170.67M1170.06 170.67L1164.16 162.6M1172.97 169.6L1167.07 161.53M1175.88 168.53L1172.93 164.49
M1207.79 162L1183.84 169.51M1183.84 169.51L1178.34 161.16M1186.8 168.58L1181.3 160.23M1189.76 167.65L1187.01 163.48
M1221.97 162L1198.1 169.76M1198.1 169.76L1192.5 161.47M1201.04 168.8L1195.45 160.51M1203.99 167.84L1198.4 159.55
M116.45 195.5L127.56 210.79M127.56 210.79L121.4 218.67
M130.62 195.5L140.27 215.27M140.27 215.27L132.84 221.96M138.91 212.49L135.19 215.83
M144.8 195.5L154.78 215.1M154.78 215.1L147.47 221.92M153.38 212.34L146.06 219.16
M158.97 195.5L165.03 216.65M165.03 216.65L156.55 221.95M164.18 213.67L155.7 218.97
M173.14 195.5L183.75 218.25M183.75 218.25L176.2 224.81M182.44 215.44L174.89 222M181.13 212.63L177.36 215.91
M187.32 195.5L197.92 218.25M197.92 218.25L190.38 224.81M196.61 215.44L189.07 222M195.3 212.63L191.53 215.91
M201.49 195.5L211.82 214.92M211.82 214.92L204.62 221.87M210.36 212.19L206.77 215.66
M215.66 195.5L220.56 223.27M220.56 223.27L211.57 227.66M220.02 220.22L211.03 224.6M219.48 217.17L210.5 221.55M218.95 214.11L209.96 218.5
M229.84 195.5L240.05 218.43M240.05 218.43L232.39 224.86M238.78 215.6L231.12 222.03M237.52 212.77L229.86 219.19
M244.01 195.5L255.93 221.06M255.93 221.06L248.38 227.62M254.62 218.25L247.07 224.81M253.31 215.44L245.76 222M252 212.63L248.22 215.91
M258.18 195.5L264.53 222.98M264.53 222.98L255.78 227.83M263.83 219.96L255.08 224.8M263.13 216.94L254.39 221.78M262.43 213.92L253.69 218.76
M272.36 195.5L277.08 216.99M277.08 216.99L268.28 221.74L276.37 213.76
M286.53 195.5L291.85 216.85M291.85 216.85L283.19 221.85L291.05 213.64
M300.7 195.5L304.2 220.36M304.2 220.36L295.06 224.42L303.74 217.09M303.33 214.22L298.77 216.25
M314.88 195.5L317.5 220.46M317.5 220.46L308.23 224.21L317.15 217.18M316.85 214.3L312.22 216.17
M329.05 195.5L332.98 220.29M332.98 220.29L323.91 224.52L332.46 217.03M332.01 214.17L327.47 216.28
M343.22 195.5L347.58 220.22M347.58 220.22L338.59 224.6L347.01 216.97M346.5 214.11L342.01 216.3
M357.4 195.5L360.02 220.46M360.02 220.46L350.75 224.21L359.67 217.18M359.37 214.3L354.74 216.17
M371.57 195.5L372.55 223.68M372.55 223.68L363.04 226.77M372.45 220.58L362.93 223.67M372.34 217.49L362.83 220.58M372.23 214.39L362.72 217.48
M385.74 195.5L386.73 223.68M386.73 223.68L377.22 226.77M386.62 220.58L377.11 223.67M386.51 217.49L377 220.58M386.4 214.39L376.89 217.48
M399.92 195.5L390.11 218.6M390.11 218.6L380.18 217.39M391.32 215.75L381.39 214.53M392.53 212.9L387.57 212.29
M414.09 195.5L394.66 205.83M394.66 205.83L387.72 198.63M397.4 204.37L393.93 200.78
M428.26 195.5L406.26 195.5M406.26 195.5L403.51 185.89M409.36 195.5L406.61 185.89
M442.44 195.5L420.44 195.5M420.44 195.5L417.68 185.89M423.54 195.5L420.78 185.89
M456.61 195.5L434.61 195.12M434.61 195.12L432.02 185.46M437.71 195.17L435.12 185.51
M470.78 195.5L448.78 195.5M448.78 195.5L446.03 185.89M451.88 195.5L449.13 185.89
M484.96 195.5L462.96 195.5M462.96 195.5L460.2 185.89M466.06 195.5L464.68 190.69
M499.13 195.5L477.13 195.88M477.13 195.88L474.21 186.32M480.23 195.83L478.77 191.05
M513.3 195.5L491.33 196.65M491.33 196.65L488.08 187.2M494.43 196.49L492.8 191.76
M527.48 195.5L505.64 198.18M505.64 198.18L501.73 188.98M508.72 197.8L506.76 193.2
M541.65 195.5L520.13 200.07M520.13 200.07L515.44 191.24M523.16 199.43L520.81 195.01
M555.82 195.5L534.09 198.94M534.09 198.94L529.87 189.88M537.15 198.46L535.04 193.93
M570 195.5L548 195.12M548 195.12L545.41 185.46M551.1 195.17L549.8 190.34
M584.17 195.5L562.2 194.35M562.2 194.35L559.95 184.6M565.29 194.51L564.17 189.64
M598.34 195.5L576.59 198.79M576.59 198.79L572.43 189.7M579.65 198.33L575.49 189.23
M612.52 195.5L590.92 199.7M590.92 199.7L586.38 190.79M593.96 199.11L589.42 190.2
M626.69 195.5L604.7 196.08M604.7 196.08L601.69 186.54M607.8 195.99L604.79 186.46
M640.86 195.5L618.88 196.27M618.88 196.27L615.79 186.76M621.97 196.16L618.88 186.65
M655.04 195.5L633.07 196.65M633.07 196.65L629.81 187.2M636.16 196.49L632.91 187.03
M669.21 195.5L647.61 191.3M647.61 191.3L646.74 181.34M650.66 191.89L649.78 181.93
M683.38 195.5L662.71 187.98M662.71 187.98L663.41 178M665.62 189.04L666.32 179.06
M697.56 195.5L678.41 184.67M678.41 184.67L680.74 174.94M681.11 186.19L683.44 176.47
M711.73 195.5L694.3 182.08M694.3 182.08L697.98 172.78M696.75 183.97L700.44 174.67
M725.9 195.5L706.12 180.05M706.12 180.05L709.87 170.78M708.57 181.96L712.31 172.68M711.01 183.86L714.75 174.59
M740.08 195.5L720.3 180.05M720.3 180.05L724.04 170.78M722.74 181.96L726.49 172.68M725.18 183.86L727.05 179.23
M754.25 195.5L737.4 181.36M737.4 181.36L741.46 172.22M739.77 183.35L743.84 174.22
M768.42 195.5L748.82 185.51M748.82 185.51L750.73 175.7M751.58 186.92L753.49 177.1
M782.6 195.5L761.34 189.81M761.34 189.81L761.17 179.81M764.34 190.61L764.25 185.61
M796.77 195.5L775.8 188.85M775.8 188.85L776.08 178.85M778.75 189.79L779.03 179.79
M810.94 195.5L790.35 187.76M790.35 187.76L791.15 177.79M793.25 188.85L794.05 178.88
M825.12 195.5L804.55 187.69M804.55 187.69L805.39 177.72M807.45 188.79L808.28 178.82
M839.29 195.5L817.77 190.93M817.77 190.93L817.07 180.95M820.8 191.57L820.1 181.59
M853.46 195.5L831.94 190.93M831.94 190.93L831.24 180.95M834.97 191.57L834.28 181.59
M867.63 195.5L846.12 190.93M846.12 190.93L845.42 180.95M849.15 191.57L848.45 181.59
M881.81 195.5L864.82 187.21M864.82 187.21L866.56 177.37
M895.98 195.5L877.85 200.84M877.85 200.84L872.49 192.39
M910.15 195.5L889.98 204.27M889.98 204.27L883.62 196.56M892.82 203.04L886.46 195.32
M924.33 195.5L912.43 210.19M912.43 210.19L903.23 206.28
M938.5 195.5L926.1 209.76M926.1 209.76L917.04 205.54
M952.67 195.5L941.3 210.59M941.3 210.59L931.96 207.01
M966.85 195.5L959.69 216.3M959.69 216.3L949.7 215.78M960.69 213.37L950.71 212.85
M981.02 195.5L973.89 219.57M973.89 219.57L963.89 219.48M974.77 216.59L964.77 216.51M975.65 213.62L970.65 213.58
M995.19 195.5L983.86 221.32M983.86 221.32L973.95 219.98M985.11 218.48L975.2 217.14M986.35 215.64L976.44 214.3M987.6 212.81L977.69 211.47
M1009.37 195.5L988.61 209.61M988.61 209.61L980.93 203.21M991.17 207.87L983.49 201.46M993.74 206.12L986.05 199.72
M1023.54 195.5L999.54 202.84M999.54 202.84L994.09 194.45M1002.5 201.93L997.06 193.55M1005.47 201.03L1000.02 192.64
M1037.71 195.5L1012.62 195.06M1012.62 195.06L1010.03 185.4M1015.72 195.12L1013.13 185.46M1018.82 195.17L1016.23 185.51
M1051.89 195.5L1029.89 195.12M1029.89 195.12L1027.3 185.46M1032.99 195.17L1030.4 185.51
M1066.06 195.5L1044.11 197.03M1044.11 197.03L1040.69 187.64M1047.21 196.82L1045.5 192.12
M1080.23 195.5L1061.7 199.2M1061.7 199.2L1057.11 190.32
M1094.41 195.5L1076.49 201.53M1076.49 201.53L1070.82 193.3
M1108.58 195.5L1088.34 204.13M1088.34 204.13L1082.04 196.37M1091.2 202.92L1084.89 195.15
M1122.75 195.5L1102.74 204.62M1102.74 204.62L1096.24 197.02M1105.56 203.34L1099.06 195.73
M1136.93 195.5L1116.53 203.74M1116.53 203.74L1110.37 195.86M1119.4 202.58L1113.25 194.7
M1151.1 195.5L1128.74 206.9M1128.74 206.9L1121.92 199.58M1131.5 205.49L1124.68 198.17M1134.26 204.08L1127.44 196.77
M1165.27 195.5L1142.56 206.19M1142.56 206.19L1135.98 198.66M1145.37 204.87L1138.78 197.34M1148.17 203.55L1141.59 196.02
M1179.45 195.5L1157.14 207.01M1157.14 207.01L1150.29 199.73M1159.9 205.59L1153.04 198.31M1162.65 204.17L1159.22 200.53
M1193.62 195.5L1170.98 206.35M1170.98 206.35L1164.35 198.87M1173.78 205.01L1167.14 197.53M1176.58 203.67L1173.26 199.93
M1207.79 195.5L1188.19 205.49M1188.19 205.49L1181.37 198.17M1190.95 204.08L1184.13 196.77
M1221.97 195.5L1201.29 203.02M1201.29 203.02L1195.42 194.93M1204.21 201.96L1198.33 193.87
M130.62 228.5L137.7 246.02M137.7 246.02L129.82 252.18
M144.8 228.5L153.67 245.19M153.67 245.19L146.48 252.13
M158.97 228.5L165.12 246.37M165.12 246.37L156.93 252.11
M173.14 228.5L183.44 244.35M183.44 244.35L176.88 251.9
M187.32 228.5L199.94 246.52M199.94 246.52L193.64 254.29M198.16 243.98L195.01 247.87
M201.49 228.5L212.95 247.28M212.95 247.28L206.18 254.64M211.34 244.63L207.95 248.31
M215.66 228.5L231.75 243.5M231.75 243.5L227.21 252.41M229.49 241.39L227.22 245.84
M229.84 228.5L244.27 245.1M244.27 245.1L238.82 253.49M242.24 242.76L239.51 246.96
M244.01 228.5L256.31 246.74M256.31 246.74L249.88 254.4M254.58 244.17L251.36 248
M258.18 228.5L273.19 244.59M273.19 244.59L268.04 253.16M271.07 242.32L265.92 250.89
M272.36 228.5L287.08 244.85M287.08 244.85L281.78 253.33M285 242.55L279.7 251.03
M286.53 228.5L302.09 244.06M302.09 244.06L297.24 252.8M299.89 241.86L295.05 250.61
M300.7 228.5L316.26 244.06M316.26 244.06L311.41 252.8M314.07 241.86L309.22 250.61
M314.88 228.5L330.7 243.78M330.7 243.78L326.01 252.61M328.47 241.63L323.78 250.46
M329.05 228.5L344.33 244.33M344.33 244.33L339.33 252.99M342.18 242.1L337.18 250.76
M343.22 228.5L358.78 244.06M358.78 244.06L353.93 252.8M356.59 241.86L351.74 250.61
M357.4 228.5L372.12 244.85M372.12 244.85L366.82 253.33M370.04 242.55L364.74 251.03
M371.57 228.5L381.16 244.78M381.16 244.78L374.28 252.04
M385.74 228.5L395.19 244.87M395.19 244.87L388.25 252.06
M399.92 228.5L405.13 246.67M405.13 246.67L396.65 251.97
M414.09 228.5L411.46 247.22M411.46 247.22L401.56 248.61
M428.26 228.5L411 236.19M411 236.19L404.57 228.53
M442.44 228.5L424.1 233.07M424.1 233.07L419.1 224.41
M456.61 228.5L437.74 229.49M437.74 229.49L434.48 220.03
M470.78 228.5L448.84 230.03M448.84 230.03L445.42 220.64M451.93 229.82L450.22 225.12
M484.96 228.5L466.06 228.83M466.06 228.83L463.13 219.27
M499.13 228.5L480.32 230.31M480.32 230.31L476.65 221.01
M513.3 228.5L491.39 230.42M491.39 230.42L487.8 221.08M494.47 230.15L492.68 225.48
M527.48 228.5L508.92 232.11M508.92 232.11L504.38 223.2
M541.65 228.5L523.48 233.71M523.48 233.71L518.18 225.23
M555.82 228.5L537.13 231.29M537.13 231.29L532.98 222.19
M570 228.5L551.28 231.13M551.28 231.13L547.21 221.99
M584.17 228.5L576.85 244.94M578.11 242.11L573.16 241.42
M598.34 228.5L595 246.19M595.58 243.14L590.6 243.6
M612.52 228.5L609.08 246.17M609.67 243.13L604.69 243.56
M626.69 228.5L623.25 246.17M623.85 243.13L618.86 243.56
M640.86 228.5L630.03 242.88M631.9 240.4L627.23 238.61
M655.04 228.5L645.23 243.6M646.92 241L642.14 239.53
M669.21 228.5L653.39 238.85M653.39 238.85L645.82 232.31
M683.38 228.5L664.83 232.11M664.83 232.11L660.29 223.2
M697.56 228.5L678.76 226.52M678.76 226.52L677.02 216.68
M711.73 228.5L692.85 227.51M692.85 227.51L690.6 217.77
M725.9 228.5L707.41 224.57M707.41 224.57L706.72 214.59
M740.08 228.5L721.5 224.99M721.5 224.99L720.58 215.03
M754.25 228.5L735.7 224.89M735.7 224.89L734.82 214.93
M768.42 228.5L749.9 224.73M749.9 224.73L749.12 214.76
M782.6 228.5L763.93 225.54M763.93 225.54L762.71 215.62
M796.77 228.5L778.43 223.93M778.43 223.93L778.08 213.93
M810.94 228.5L792.73 223.45M792.73 223.45L792.64 213.45
M825.12 228.5L807.11 222.75M807.11 222.75L807.41 212.76
M839.29 228.5L821.3 222.69M821.3 222.69L821.63 212.7
M853.46 228.5L835.21 223.61M835.21 223.61L835.03 213.61
M867.63 228.5L849.12 224.7M849.12 224.7L848.35 214.73
M881.81 228.5L869.46 215.4M871.59 217.66L874.14 213.36
M895.98 228.5L883.35 239.88
M910.15 228.5L919.77 243.71M918.12 241.09L914.79 244.83
M924.33 228.5L934.39 243.42M932.66 240.85L929.45 244.68
M938.5 228.5L946.67 244.54M945.27 241.78L941.61 245.19
M952.67 228.5L956.85 246.01M956.13 242.99L951.77 245.45
M966.85 228.5L971.81 245.8M970.95 242.82L966.71 245.47
M981.02 228.5L989.6 245.34M989.6 245.34L982.29 252.16
M995.19 228.5L1003.78 245.34M1003.78 245.34L996.46 252.16
M1009.37 228.5L1014.26 246.76M1014.26 246.76L1005.69 251.91
M1023.54 228.5L1028.59 246.71M1028.59 246.71L1020.07 251.94
M1037.71 228.5L1037.38 247.4M1037.38 247.4L1027.73 249.99
M1051.89 228.5L1050.24 247.33M1050.24 247.33L1040.42 249.24
M1066.06 228.5L1062.63 246.17M1063.22 243.13L1058.24 243.56
M1080.23 228.5L1070.78 244.87M1070.78 244.87L1061.08 242.45
M1094.41 228.5L1082.59 243.25M1082.59 243.25L1073.37 239.39
M1108.58 228.5L1098.29 244.35M1098.29 244.35L1088.72 241.43
M1122.75 228.5L1109.48 241.96M1109.48 241.96L1100.7 237.17
M1136.93 228.5L1125.29 243.39M1125.29 243.39L1116.02 239.65
M1151.1 228.5L1141.23 244.61M1141.23 244.61L1131.59 241.94
M1165.27 228.5L1154.71 244.17M1154.71 244.17L1145.19 241.08
M1179.45 228.5L1169.71 244.7M1169.71 244.7L1160.05 242.11
M1193.62 228.5L1181.22 242.76M1181.22 242.76L1172.16 238.54
M1207.79 228.5L1195.65 242.98M1195.65 242.98L1186.51 238.91
M1221.97 228.5L1210.99 243.89M1210.99 243.89L1201.57 240.55
"/></g>
<g id="temp" clip-path="url(#ct)">
<polyline points="116.45,548.17 130.62,548.17 144.8,548.17 158.97,548.17 173.14,548.17 187.32,548.17 201.49,548.17 215.66,548.17 229.84,548.17 244.01,531.39 258.18,525.5 272.36,521.87 286.53,520.97 300.7,521.65 314.88,520.97 329.05,524.82 343.22,536.83 357.4,548.17 371.57,548.17 385.74,548.17 399.92,548.17 414.09,548.17 428.26,548.17 442.44,548.17 456.61,548.17 470.78,548.17 484.96,548.17 499.13,548.17 513.3,548.17 527.48,548.17 541.65,548.17 555.82,548.17 570,548.17 584.17,548.17 598.34,548.17 612.52,548.17 626.69,548.17 640.86,548.17 655.04,548.17 669.21,548.17 683.38,548.17 697.56,548.17 711.73,548.17 725.9,548.17 740.08,548.17 754.25,548.17 768.42,548.17 782.6,548.17 796.77,548.17 810.94,548.17 825.12,548.17 839.29,548.17 853.46,548.17 867.63,548.17 881.81,548.17 895.98,548.17 910.15,528.67 924.33,521.87 938.5,520.06 952.67,520.06 966.85,520.51 981.02,518.7 995.19,517.57 1009.37,515.07 1023.54,515.07 1037.71,515.98 1051.89,518.7 1066.06,519.83 1080.23,520.51 1094.41,521.87 1108.58,522.1 1122.75,522.1 1136.93,520.97 1151.1,520.06 1165.27,519.38 1179.45,519.38 1193.62,518.25 1207.79,518.25 1221.97,518.25" fill="none" stroke="#f00082" stroke-width="3" stroke-dasharray="4 3.5"/>
<polyline points="116.45,474.73 130.62,474.27 144.8,471.55 158.97,470.87 173.14,470.87 187.32,472.46 201.49,471.55 215.66,470.87 229.84,471.1 244.01,472.01 258.18,471.1 272.36,469.74 286.53,467.93 300.7,466.11 314.88,464.75 329.05,464.75 343.22,464.75 357.4,462.49 371.57,463.39 385.74,465.21 399.92,467.93 414.09,469.74 428.26,468.61 442.44,468.38 456.61,469.74 470.78,468.38 484.96,467.02 499.13,466.34 513.3,465.89 527.48,465.43 541.65,464.75 555.82,465.43 570,465.89 584.17,467.93 598.34,470.42 612.52,472.01 626.69,474.95 640.86,476.09 655.04,477.9 669.21,479.94 683.38,481.53 697.56,481.07 711.73,481.53 725.9,482.89 740.08,481.07 754.25,480.62 768.42,480.62 782.6,479.26 796.77,477.45 810.94,475.41 825.12,474.73 839.29,474.73 853.46,473.59 867.63,472.01 881.81,470.42 895.98,465.43 910.15,462.94 924.33,459.09 938.5,457.05 952.67,455.23 966.85,448.43 981.02,446.85 995.19,445.03 1009.37,442.31 1023.54,442.09 1037.71,444.81 1051.89,445.03 1066.06,445.49 1080.23,444.81 1094.41,444.81 1108.58,445.94 1122.75,446.62 1136.93,446.17 1151.1,444.81 1165.27,442.99 1179.45,442.09 1193.62,441.63 1207.79,441.63 1221.97,442.54" fill="none" stroke="#f00082" stroke-width="3" stroke-dasharray="18 9.5 2.5 7.5"/>
<polyline points="116.45,448.43 130.62,446.62 144.8,442.31 158.97,440.27 173.14,434.83 187.32,435.74 201.49,431.66 215.66,432.79 229.84,434.83 244.01,434.61 258.18,433.47 272.36,434.83 286.53,433.47 300.7,431.89 314.88,428.49 329.05,425.54 343.22,426.9 357.4,429.62 371.57,430.75 385.74,429.85 399.92,430.3 414.09,431.66 428.26,431.66 442.44,434.83 456.61,439.14 470.78,438.69 484.96,442.77 499.13,446.62 513.3,444.81 527.48,443.67 541.65,444.13 555.82,446.62 570,444.35 584.17,440.27 598.34,437.33 612.52,436.19 626.69,434.83 640.86,434.83 655.04,434.83 669.21,435.74 683.38,435.74 697.56,437.33 711.73,438.01 725.9,439.14 740.08,443.45 754.25,446.62 768.42,444.81 782.6,442.09 796.77,441.18 810.94,438.32 825.12,436.65 839.29,436.19 853.46,438.32 867.63,438.32 881.81,432.79 895.98,431.34 910.15,431.34 924.33,430.3 938.5,429.08 952.67,428.49 966.85,423.73 981.02,417.15 995.19,410.81 1009.37,406.73 1023.54,402.87 1037.71,397.89 1051.89,394.94 1066.06,392.9 1080.23,391.77 1094.41,391.77 1108.58,393.35 1122.75,394.03 1136.93,395.39 1151.1,395.85 1165.27,395.85 1179.45,395.39 1193.62,394.03 1207.79,392.9 1221.97,392.9" fill="none" stroke="#f00082" stroke-width="3" stroke-dasharray="28.5 11"/>
<polyline points="116.45,416.56 130.62,422.14 144.8,421.69 158.97,419.87 173.14,420.33 187.32,417.83 201.49,416.7 215.66,415.34 229.84,415.79 244.01,414.89 258.18,414.43 272.36,413.98 286.53,413.3 300.7,413.3 314.88,412.17 329.05,411.03 343.22,410.35 357.4,409.45 371.57,407.18 385.74,406.05 399.92,405.37 414.09,404.01 428.26,404.01 442.44,405.82 456.61,410.35 470.78,411.71 484.96,410.35 499.13,413.3 513.3,410.35 527.48,411.71 541.65,411.71 555.82,413.3 570,415.34 584.17,413.98 598.34,412.17 612.52,408.99 626.69,406.73 640.86,404.91 655.04,403.55 669.21,402.19 683.38,402.42 697.56,403.28 711.73,404.01 725.9,404.91 740.08,405.82 754.25,405.82 768.42,405.37 782.6,404.91 796.77,404.91 810.94,409.45 825.12,408.31 839.29,407.63 853.46,406.05 867.63,404.91 881.81,406.05 895.98,407.18 910.15,401.51 924.33,399.93 938.5,402.19 952.67,400.83 966.85,398.57 981.02,397.21 995.19,397.21 1009.37,397.21 1023.54,396.3 1037.71,394.94 1051.89,392.9 1066.06,391.77 1080.23,387.69 1094.41,382.7 1108.58,379.98 1122.75,376.58 1136.93,371.59 1151.1,369.1 1165.27,367.29 1179.45,365.47 1193.62,366.83 1207.79,366.83 1221.97,365.93" fill="none" stroke="#008000" stroke-width="3" stroke-dasharray="4.5 3"/>
<polyline points="116.45,394.03 130.62,402.78 144.8,404.46 158.97,401.51 173.14,405.37 187.32,403.28 201.49,403.28 215.66,404.46 229.84,406.55 244.01,408.27 258.18,409.54 272.36,409.54 286.53,409.54 300.7,409.54 314.88,409.54 329.05,408.99 343.22,408.77 357.4,407.18 371.57,405.37 385.74,404.01 399.92,403.28 414.09,402.19 428.26,400.83 442.44,399.47 456.61,396.53 470.78,394.03 484.96,393.58 499.13,399.93 513.3,393.58 527.48,395.85 541.65,397.21 555.82,397.21 570,400.83 584.17,404.01 598.34,405.82 612.52,404.46 626.69,403.55 640.86,402.78 655.04,401.74 669.21,400.38 683.38,399.47 697.56,399.47 711.73,400.83 725.9,400.83 740.08,400.38 754.25,397.21 768.42,394.49 782.6,392.67 796.77,392.67 810.94,396.07 825.12,394.03 839.29,392.67 853.46,387.23 867.63,388.14 881.81,385.87 895.98,384.74 910.15,388.14 924.33,391.99 938.5,394.03 952.67,395.39 966.85,395.39 981.02,394.94 995.19,395.39 1009.37,394.94 1023.54,393.35 1037.71,391.77 1051.89,390.86 1066.06,389.95 1080.23,382.7 1094.41,376.58 1108.58,371.59 1122.75,365.93 1136.93,359.81 1151.1,353.69 1165.27,350.29 1179.45,346.43 1193.62,345.3 1207.79,345.75 1221.97,347.34" fill="none" stroke="#fa3c3c" stroke-width="2.6"/>
</g>
<polyline points="116.45,618.05 123.54,619.3 130.62,620.2 137.71,621.82 144.8,623.81 151.88,625.99 158.97,628 166.06,629.83 173.14,631.49 180.23,632.98 187.32,634.46 194.4,636 201.49,637.58 208.58,639.23 215.66,640.92 222.75,642.66 229.84,644.41 236.92,646.1 244.01,647.74 251.1,649.73 258.18,652.07 265.27,654.76 272.36,657.85 279.44,661.22 286.53,664.48 293.62,667.62 300.7,670.65 307.79,673.56 314.88,676.47 321.96,679.17 329.05,681.66 336.14,683.94 343.22,686.01 350.31,687.87 357.4,689.73 364.48,691.43 371.57,692.97 378.66,694.34 385.74,695.55 392.83,696.6 399.92,697.65 407,698.55 414.09,699.32 421.18,699.95 428.26,700.25 435.35,700.23 442.44,700.02 449.52,699.5 456.61,698.66 463.7,697.69 470.78,696.6 477.87,695.38 484.96,694.15 492.04,693.03 499.13,692.01 506.22,691.08 513.3,690.26 520.39,689.53 527.48,688.8 534.56,688.16 541.65,687.6 548.74,687.13 555.82,686.74 562.91,686.53 570,686.41 577.08,686.48 584.17,686.72 591.26,687.14 598.34,687.64 605.43,688.22 612.52,688.8 619.6,689.36 626.69,689.9 633.78,690.41 640.86,690.9 647.95,691.36 655.04,691.83 662.12,692.11 669.21,692.2 676.3,692.11 683.38,691.83 690.47,691.36 697.56,690.9 704.64,690.32 711.73,689.63 718.82,688.84 725.9,687.93 732.99,686.91 740.08,685.89 747.16,684.86 754.25,683.82 761.34,682.77 768.42,681.7 775.51,680.63 782.6,679.55 789.68,678.44 796.77,677.29 803.86,676.11 810.94,674.9 818.03,673.65 825.12,672.39 832.2,671.26 839.29,670.24 846.37,669.34 853.46,668.55 860.55,667.89 867.63,667.22 874.72,666.65 881.81,666.17 888.89,665.8 895.98,665.53 903.07,665.41 910.15,665.34 917.24,665.4 924.33,665.6 931.41,665.93 938.5,666.34 945.59,666.84 952.67,667.33 959.76,667.98 966.85,668.79 973.93,669.76 981.02,670.88 988.11,672.16 995.19,673.44 1002.28,674.75 1009.37,676.07 1016.45,677.26 1023.54,678.32 1030.63,679.25 1037.71,680.02 1044.8,680.57 1051.89,681.08 1058.97,681.53 1066.06,681.94 1073.15,682.29 1080.23,682.63 1087.32,683.02 1094.41,683.44 1101.49,683.76 1108.58,683.99 1115.67,684.12 1122.75,684.12 1129.84,684.11 1136.93,684.22 1144.01,684.46 1151.1,684.82 1158.19,685.36 1165.27,685.96 1172.36,686.55 1179.45,687.14 1186.53,687.71 1193.62,688.22 1200.71,688.66 1207.79,689.09 1214.88,689.31 1221.97,689.97" fill="none" stroke="#000" stroke-width="2"/>
<g id="precip">
<line x1="116.45" y1="832.5" x2="1221.97" y2="832.5" stroke="#000" stroke-width="1"/>
<text x="137.71" y="779.5" font-family='"Liberation Serif", serif' font-size="14" font-style="italic" text-anchor="middle" textLength="24" lengthAdjust="spacingAndGlyphs" fill="#000" stroke="#000" stroke-width="0.1">0.1</text>
<text x="180.23" y="779.5" font-family='"Liberation Serif", serif' font-size="14" font-style="italic" text-anchor="middle" textLength="24" lengthAdjust="spacingAndGlyphs" fill="#000" stroke="#000" stroke-width="0.1">0.1</text>
<text x="222.75" y="779.5" font-family='"Liberation Serif", serif' font-size="14" font-style="italic" text-anchor="middle" textLength="8" lengthAdjust="spacingAndGlyphs" fill="#000" stroke="#000" stroke-width="0.1">1</text>
<text x="265.27" y="779.5" font-family='"Liberation Serif", serif' font-size="14" font-style="italic" text-anchor="middle" textLength="24" lengthAdjust="spacingAndGlyphs" fill="#000" stroke="#000" stroke-width="0.1">2.8</text>
<text x="307.79" y="779.5" font-family='"Liberation Serif", serif' font-size="14" font-style="italic" text-anchor="middle" textLength="24" lengthAdjust="spacingAndGlyphs" fill="#000" stroke="#000" stroke-width="0.1">3.5</text>
<text x="350.31" y="779.5" font-family='"Liberation Serif", serif' font-size="14" font-style="italic" text-anchor="middle" textLength="24" lengthAdjust="spacingAndGlyphs" fill="#000" stroke="#000" stroke-width="0.1">5.6</text>
<text x="392.83" y="779.5" font-family='"Liberation Serif", serif' font-size="14" font-style="italic" text-anchor="middle" textLength="24" lengthAdjust="spacingAndGlyphs" fill="#000" stroke="#000" stroke-width="0.1">2.5</text>
<text x="435.35" y="779.5" font-family='"Liberation Serif", serif' font-size="14" font-style="italic" text-anchor="middle" textLength="24" lengthAdjust="spacingAndGlyphs" fill="#000" stroke="#000" stroke-width="0.1">0.1</text>
<text x="520.39" y="779.5" font-family='"Liberation Serif", serif' font-size="14" font-style="italic" text-anchor="middle" textLength="24" lengthAdjust="spacingAndGlyphs" fill="#000" stroke="#000" stroke-width="0.1">0.1</text>
<text x="605.43" y="779.5" font-family='"Liberation Serif", serif' font-size="14" font-style="italic" text-anchor="middle" textLength="24" lengthAdjust="spacingAndGlyphs" fill="#000" stroke="#000" stroke-width="0.1">0.1</text>
<text x="647.95" y="779.5" font-family='"Liberation Serif", serif' font-size="14" font-style="italic" text-anchor="middle" textLength="24" lengthAdjust="spacingAndGlyphs" fill="#000" stroke="#000" stroke-width="0.1">3.7</text>
<text x="690.47" y="779.5" font-family='"Liberation Serif", serif' font-size="14" font-style="italic" text-anchor="middle" textLength="24" lengthAdjust="spacingAndGlyphs" fill="#000" stroke="#000" stroke-width="0.1">1.1</text>
<text x="732.99" y="779.5" font-family='"Liberation Serif", serif' font-size="14" font-style="italic" text-anchor="middle" textLength="24" lengthAdjust="spacingAndGlyphs" fill="#000" stroke="#000" stroke-width="0.1">0.1</text>
<text x="945.59" y="779.5" font-family='"Liberation Serif", serif' font-size="14" font-style="italic" text-anchor="middle" textLength="24" lengthAdjust="spacingAndGlyphs" fill="#000" stroke="#000" stroke-width="0.1">0.1</text>
<text x="988.11" y="779.5" font-family='"Liberation Serif", serif' font-size="14" font-style="italic" text-anchor="middle" textLength="24" lengthAdjust="spacingAndGlyphs" fill="#000" stroke="#000" stroke-width="0.1">2.7</text>
<text x="1030.63" y="779.5" font-family='"Liberation Serif", serif' font-size="14" font-style="italic" text-anchor="middle" textLength="24" lengthAdjust="spacingAndGlyphs" fill="#000" stroke="#000" stroke-width="0.1">2.1</text>
</g>
<g id="clouds" shape-rendering="geometricPrecision">
<circle cx="116.45" cy="844.5" r="5.8" fill="#fff" stroke="#000" stroke-width="1"/><circle cx="116.45" cy="844.5" r="6.3" fill="#000"/><rect x="114.85" y="839.2" width="3.2" height="10.6" fill="#fff"/>
<circle cx="130.62" cy="844.5" r="6.3" fill="#000"/>
<circle cx="144.8" cy="844.5" r="5.8" fill="#fff" stroke="#000" stroke-width="1"/><path d="M144.8 838.2A6.3 6.3 0 1 1 138.5 844.5H144.8Z" fill="#000"/>
<circle cx="158.97" cy="844.5" r="5.8" fill="#fff" stroke="#000" stroke-width="1"/><circle cx="158.97" cy="844.5" r="6.3" fill="#000"/><rect x="157.37" y="839.2" width="3.2" height="10.6" fill="#fff"/>
<circle cx="173.14" cy="844.5" r="6.3" fill="#000"/>
<circle cx="187.32" cy="844.5" r="6.3" fill="#000"/>
<circle cx="201.49" cy="844.5" r="6.3" fill="#000"/>
<circle cx="215.66" cy="844.5" r="6.3" fill="#000"/>
<circle cx="229.84" cy="844.5" r="6.3" fill="#000"/>
<circle cx="244.01" cy="844.5" r="6.3" fill="#000"/>
<circle cx="258.18" cy="844.5" r="6.3" fill="#000"/>
<circle cx="272.36" cy="844.5" r="6.3" fill="#000"/>
<circle cx="286.53" cy="844.5" r="6.3" fill="#000"/>
<circle cx="300.7" cy="844.5" r="6.3" fill="#000"/>
<circle cx="314.88" cy="844.5" r="6.3" fill="#000"/>
<circle cx="329.05" cy="844.5" r="6.3" fill="#000"/>
<circle cx="343.22" cy="844.5" r="6.3" fill="#000"/>
<circle cx="357.4" cy="844.5" r="6.3" fill="#000"/>
<circle cx="371.57" cy="844.5" r="5.8" fill="#fff" stroke="#000" stroke-width="1"/>
<circle cx="385.74" cy="844.5" r="5.8" fill="#fff" stroke="#000" stroke-width="1"/>
<circle cx="399.92" cy="844.5" r="5.8" fill="#fff" stroke="#000" stroke-width="1"/>
<circle cx="414.09" cy="844.5" r="5.8" fill="#fff" stroke="#000" stroke-width="1"/>
<circle cx="428.26" cy="844.5" r="5.8" fill="#fff" stroke="#000" stroke-width="1"/>
<circle cx="442.44" cy="844.5" r="5.8" fill="#fff" stroke="#000" stroke-width="1"/>
<circle cx="456.61" cy="844.5" r="5.8" fill="#fff" stroke="#000" stroke-width="1"/>
<circle cx="470.78" cy="844.5" r="5.8" fill="#fff" stroke="#000" stroke-width="1"/>
<circle cx="484.96" cy="844.5" r="5.8" fill="#fff" stroke="#000" stroke-width="1"/>
<circle cx="499.13" cy="844.5" r="5.8" fill="#fff" stroke="#000" stroke-width="1"/>
<circle cx="513.3" cy="844.5" r="5.8" fill="#fff" stroke="#000" stroke-width="1"/>
<circle cx="527.48" cy="844.5" r="5.8" fill="#fff" stroke="#000" stroke-width="1"/>
<circle cx="541.65" cy="844.5" r="5.8" fill="#fff" stroke="#000" stroke-width="1"/>
<circle cx="555.82" cy="844.5" r="5.8" fill="#fff" stroke="#000" stroke-width="1"/>
<circle cx="570" cy="844.5" r="5.8" fill="#fff" stroke="#000" stroke-width="1"/>
<circle cx="584.17" cy="844.5" r="5.8" fill="#fff" stroke="#000" stroke-width="1"/>
<circle cx="598.34" cy="844.5" r="5.8" fill="#fff" stroke="#000" stroke-width="1"/>
<circle cx="612.52" cy="844.5" r="5.8" fill="#fff" stroke="#000" stroke-width="1"/>
<circle cx="626.69" cy="844.5" r="5.8" fill="#fff" stroke="#000" stroke-width="1"/>
<circle cx="640.86" cy="844.5" r="5.8" fill="#fff" stroke="#000" stroke-width="1"/>
<circle cx="655.04" cy="844.5" r="5.8" fill="#fff" stroke="#000" stroke-width="1"/>
<circle cx="669.21" cy="844.5" r="6.3" fill="#000"/>
<circle cx="683.38" cy="844.5" r="6.3" fill="#000"/>
<circle cx="697.56" cy="844.5" r="5.8" fill="#fff" stroke="#000" stroke-width="1"/><path d="M697.56 844.5V838.2A6.3 6.3 0 0 1 703.86 844.5Z" fill="#000"/><path d="M697.56 838.2V850.8" stroke="#000" stroke-width="1"/>
<circle cx="711.73" cy="844.5" r="5.8" fill="#fff" stroke="#000" stroke-width="1"/>
<circle cx="725.9" cy="844.5" r="5.8" fill="#fff" stroke="#000" stroke-width="1"/>
<circle cx="740.08" cy="844.5" r="5.8" fill="#fff" stroke="#000" stroke-width="1"/>
<circle cx="754.25" cy="844.5" r="5.8" fill="#fff" stroke="#000" stroke-width="1"/>
<circle cx="768.42" cy="844.5" r="5.8" fill="#fff" stroke="#000" stroke-width="1"/>
<circle cx="782.6" cy="844.5" r="5.8" fill="#fff" stroke="#000" stroke-width="1"/>
<circle cx="796.77" cy="844.5" r="5.8" fill="#fff" stroke="#000" stroke-width="1"/>
<circle cx="810.94" cy="844.5" r="5.8" fill="#fff" stroke="#000" stroke-width="1"/>
<circle cx="825.12" cy="844.5" r="5.8" fill="#fff" stroke="#000" stroke-width="1"/>
<circle cx="839.29" cy="844.5" r="5.8" fill="#fff" stroke="#000" stroke-width="1"/>
<circle cx="853.46" cy="844.5" r="5.8" fill="#fff" stroke="#000" stroke-width="1"/>
<circle cx="867.63" cy="844.5" r="5.8" fill="#fff" stroke="#000" stroke-width="1"/><path d="M867.63 844.5V838.2A6.3 6.3 0 0 1 873.93 844.5Z" fill="#000"/>
<circle cx="881.81" cy="844.5" r="5.8" fill="#fff" stroke="#000" stroke-width="1"/><path d="M881.81 844.5V838.2A6.3 6.3 0 0 1 888.11 844.5Z" fill="#000"/>
<circle cx="895.98" cy="844.5" r="5.8" fill="#fff" stroke="#000" stroke-width="1"/><path d="M895.98 844.5V838.2A6.3 6.3 0 0 1 902.28 844.5Z" fill="#000"/><path d="M895.98 838.2V850.8" stroke="#000" stroke-width="1"/>
<circle cx="910.15" cy="844.5" r="5.8" fill="#fff" stroke="#000" stroke-width="1"/><path d="M910.15 844.5V838.2A6.3 6.3 0 0 1 916.45 844.5Z" fill="#000"/><path d="M910.15 838.2V850.8" stroke="#000" stroke-width="1"/>
<circle cx="924.33" cy="844.5" r="5.8" fill="#fff" stroke="#000" stroke-width="1"/><path d="M924.33 844.5V838.2A6.3 6.3 0 0 1 930.63 844.5Z" fill="#000"/><path d="M924.33 838.2V850.8" stroke="#000" stroke-width="1"/>
<circle cx="938.5" cy="844.5" r="6.3" fill="#000"/>
<circle cx="952.67" cy="844.5" r="6.3" fill="#000"/>
<circle cx="966.85" cy="844.5" r="6.3" fill="#000"/>
<circle cx="981.02" cy="844.5" r="6.3" fill="#000"/>
<circle cx="995.19" cy="844.5" r="5.8" fill="#fff" stroke="#000" stroke-width="1"/><path d="M995.19 838.2A6.3 6.3 0 0 1 995.19 850.8Z" fill="#000"/><path d="M988.89 844.5H995.19" stroke="#000" stroke-width="1"/>
<circle cx="1009.37" cy="844.5" r="6.3" fill="#000"/>
<circle cx="1023.54" cy="844.5" r="5.8" fill="#fff" stroke="#000" stroke-width="1"/><path d="M1023.54 838.2A6.3 6.3 0 0 1 1023.54 850.8Z" fill="#000"/>
<circle cx="1037.71" cy="844.5" r="5.8" fill="#fff" stroke="#000" stroke-width="1"/><path d="M1037.71 838.2V850.8" stroke="#000" stroke-width="1"/>
<circle cx="1051.89" cy="844.5" r="5.8" fill="#fff" stroke="#000" stroke-width="1"/><path d="M1051.89 844.5V838.2A6.3 6.3 0 0 1 1058.19 844.5Z" fill="#000"/>
<circle cx="1066.06" cy="844.5" r="5.8" fill="#fff" stroke="#000" stroke-width="1"/><circle cx="1066.06" cy="844.5" r="6.3" fill="#000"/><rect x="1064.46" y="839.2" width="3.2" height="10.6" fill="#fff"/>
<circle cx="1080.23" cy="844.5" r="5.8" fill="#fff" stroke="#000" stroke-width="1"/><path d="M1080.23 838.2V850.8" stroke="#000" stroke-width="1"/>
<circle cx="1094.41" cy="844.5" r="5.8" fill="#fff" stroke="#000" stroke-width="1"/>
<circle cx="1108.58" cy="844.5" r="5.8" fill="#fff" stroke="#000" stroke-width="1"/>
<circle cx="1122.75" cy="844.5" r="5.8" fill="#fff" stroke="#000" stroke-width="1"/>
<circle cx="1136.93" cy="844.5" r="5.8" fill="#fff" stroke="#000" stroke-width="1"/>
<circle cx="1151.1" cy="844.5" r="5.8" fill="#fff" stroke="#000" stroke-width="1"/>
<circle cx="1165.27" cy="844.5" r="5.8" fill="#fff" stroke="#000" stroke-width="1"/>
<circle cx="1179.45" cy="844.5" r="5.8" fill="#fff" stroke="#000" stroke-width="1"/>
<circle cx="1193.62" cy="844.5" r="5.8" fill="#fff" stroke="#000" stroke-width="1"/><path d="M1193.62 838.2A6.3 6.3 0 0 1 1193.62 850.8Z" fill="#000"/><path d="M1187.32 844.5H1193.62" stroke="#000" stroke-width="1"/>
<circle cx="1207.79" cy="844.5" r="5.8" fill="#fff" stroke="#000" stroke-width="1"/><path d="M1207.79 838.2V850.8" stroke="#000" stroke-width="1"/>
<circle cx="1221.97" cy="844.5" r="5.8" fill="#fff" stroke="#000" stroke-width="1"/>
<circle cx="116.45" cy="863.3" r="5.8" fill="#fff" stroke="#000" stroke-width="1"/><path d="M116.45 857A6.3 6.3 0 0 1 116.45 869.6Z" fill="#000"/>
<circle cx="130.62" cy="863.3" r="6.3" fill="#000"/>
<circle cx="144.8" cy="863.3" r="5.8" fill="#fff" stroke="#000" stroke-width="1"/><path d="M144.8 857A6.3 6.3 0 0 1 144.8 869.6Z" fill="#000"/><path d="M138.5 863.3H144.8" stroke="#000" stroke-width="1"/>
<circle cx="158.97" cy="863.3" r="6.3" fill="#000"/>
<circle cx="173.14" cy="863.3" r="6.3" fill="#000"/>
<circle cx="187.32" cy="863.3" r="6.3" fill="#000"/>
<circle cx="201.49" cy="863.3" r="6.3" fill="#000"/>
<circle cx="215.66" cy="863.3" r="6.3" fill="#000"/>
<circle cx="229.84" cy="863.3" r="6.3" fill="#000"/>
<circle cx="244.01" cy="863.3" r="6.3" fill="#000"/>
<circle cx="258.18" cy="863.3" r="6.3" fill="#000"/>
<circle cx="272.36" cy="863.3" r="6.3" fill="#000"/>
<circle cx="286.53" cy="863.3" r="6.3" fill="#000"/>
<circle cx="300.7" cy="863.3" r="6.3" fill="#000"/>
<circle cx="314.88" cy="863.3" r="6.3" fill="#000"/>
<circle cx="329.05" cy="863.3" r="6.3" fill="#000"/>
<circle cx="343.22" cy="863.3" r="6.3" fill="#000"/>
<circle cx="357.4" cy="863.3" r="6.3" fill="#000"/>
<circle cx="371.57" cy="863.3" r="6.3" fill="#000"/>
<circle cx="385.74" cy="863.3" r="6.3" fill="#000"/>
<circle cx="399.92" cy="863.3" r="6.3" fill="#000"/>
<circle cx="414.09" cy="863.3" r="5.8" fill="#fff" stroke="#000" stroke-width="1"/><path d="M414.09 857A6.3 6.3 0 0 1 414.09 869.6Z" fill="#000"/><path d="M407.79 863.3H414.09" stroke="#000" stroke-width="1"/>
<circle cx="428.26" cy="863.3" r="5.8" fill="#fff" stroke="#000" stroke-width="1"/>
<circle cx="442.44" cy="863.3" r="5.8" fill="#fff" stroke="#000" stroke-width="1"/>
<circle cx="456.61" cy="863.3" r="5.8" fill="#fff" stroke="#000" stroke-width="1"/>
<circle cx="470.78" cy="863.3" r="5.8" fill="#fff" stroke="#000" stroke-width="1"/>
<circle cx="484.96" cy="863.3" r="5.8" fill="#fff" stroke="#000" stroke-width="1"/>
<circle cx="499.13" cy="863.3" r="5.8" fill="#fff" stroke="#000" stroke-width="1"/>
<circle cx="513.3" cy="863.3" r="5.8" fill="#fff" stroke="#000" stroke-width="1"/>
<circle cx="527.48" cy="863.3" r="5.8" fill="#fff" stroke="#000" stroke-width="1"/><path d="M527.48 857V869.6" stroke="#000" stroke-width="1"/>
<circle cx="541.65" cy="863.3" r="5.8" fill="#fff" stroke="#000" stroke-width="1"/>
<circle cx="555.82" cy="863.3" r="5.8" fill="#fff" stroke="#000" stroke-width="1"/><path d="M555.82 857A6.3 6.3 0 1 1 549.52 863.3H555.82Z" fill="#000"/>
<circle cx="570" cy="863.3" r="5.8" fill="#fff" stroke="#000" stroke-width="1"/><path d="M570 857A6.3 6.3 0 0 1 570 869.6Z" fill="#000"/><path d="M563.7 863.3H570" stroke="#000" stroke-width="1"/>
<circle cx="584.17" cy="863.3" r="5.8" fill="#fff" stroke="#000" stroke-width="1"/><path d="M584.17 857A6.3 6.3 0 1 1 577.87 863.3H584.17Z" fill="#000"/>
<circle cx="598.34" cy="863.3" r="6.3" fill="#000"/>
<circle cx="612.52" cy="863.3" r="6.3" fill="#000"/>
<circle cx="626.69" cy="863.3" r="6.3" fill="#000"/>
<circle cx="640.86" cy="863.3" r="6.3" fill="#000"/>
<circle cx="655.04" cy="863.3" r="6.3" fill="#000"/>
<circle cx="669.21" cy="863.3" r="6.3" fill="#000"/>
<circle cx="683.38" cy="863.3" r="6.3" fill="#000"/>
<circle cx="697.56" cy="863.3" r="6.3" fill="#000"/>
<circle cx="711.73" cy="863.3" r="5.8" fill="#fff" stroke="#000" stroke-width="1"/><path d="M711.73 863.3V857A6.3 6.3 0 0 1 718.03 863.3Z" fill="#000"/><path d="M711.73 857V869.6" stroke="#000" stroke-width="1"/>
<circle cx="725.9" cy="863.3" r="5.8" fill="#fff" stroke="#000" stroke-width="1"/>
<circle cx="740.08" cy="863.3" r="5.8" fill="#fff" stroke="#000" stroke-width="1"/>
<circle cx="754.25" cy="863.3" r="5.8" fill="#fff" stroke="#000" stroke-width="1"/>
<circle cx="768.42" cy="863.3" r="5.8" fill="#fff" stroke="#000" stroke-width="1"/>
<circle cx="782.6" cy="863.3" r="5.8" fill="#fff" stroke="#000" stroke-width="1"/><path d="M782.6 857V869.6" stroke="#000" stroke-width="1"/>
<circle cx="796.77" cy="863.3" r="5.8" fill="#fff" stroke="#000" stroke-width="1"/>
<circle cx="810.94" cy="863.3" r="5.8" fill="#fff" stroke="#000" stroke-width="1"/>
<circle cx="825.12" cy="863.3" r="5.8" fill="#fff" stroke="#000" stroke-width="1"/>
<circle cx="839.29" cy="863.3" r="5.8" fill="#fff" stroke="#000" stroke-width="1"/>
<circle cx="853.46" cy="863.3" r="5.8" fill="#fff" stroke="#000" stroke-width="1"/>
<circle cx="867.63" cy="863.3" r="5.8" fill="#fff" stroke="#000" stroke-width="1"/>
<circle cx="881.81" cy="863.3" r="5.8" fill="#fff" stroke="#000" stroke-width="1"/><path d="M881.81 857A6.3 6.3 0 0 1 881.81 869.6Z" fill="#000"/>
<circle cx="895.98" cy="863.3" r="5.8" fill="#fff" stroke="#000" stroke-width="1"/><path d="M895.98 863.3V857A6.3 6.3 0 0 1 902.28 863.3Z" fill="#000"/>
<circle cx="910.15" cy="863.3" r="6.3" fill="#000"/>
<circle cx="924.33" cy="863.3" r="6.3" fill="#000"/>
<circle cx="938.5" cy="863.3" r="6.3" fill="#000"/>
<circle cx="952.67" cy="863.3" r="6.3" fill="#000"/>
<circle cx="966.85" cy="863.3" r="6.3" fill="#000"/>
<circle cx="981.02" cy="863.3" r="6.3" fill="#000"/>
<circle cx="995.19" cy="863.3" r="6.3" fill="#000"/>
<circle cx="1009.37" cy="863.3" r="6.3" fill="#000"/>
<circle cx="1023.54" cy="863.3" r="6.3" fill="#000"/>
<circle cx="1037.71" cy="863.3" r="5.8" fill="#fff" stroke="#000" stroke-width="1"/><path d="M1037.71 857A6.3 6.3 0 1 1 1031.41 863.3H1037.71Z" fill="#000"/>
<circle cx="1051.89" cy="863.3" r="5.8" fill="#fff" stroke="#000" stroke-width="1"/><path d="M1051.89 857V869.6" stroke="#000" stroke-width="1"/>
<circle cx="1066.06" cy="863.3" r="5.8" fill="#fff" stroke="#000" stroke-width="1"/><path d="M1066.06 863.3V857A6.3 6.3 0 0 1 1072.36 863.3Z" fill="#000"/>
<circle cx="1080.23" cy="863.3" r="5.8" fill="#fff" stroke="#000" stroke-width="1"/><path d="M1080.23 857V869.6" stroke="#000" stroke-width="1"/>
<circle cx="1094.41" cy="863.3" r="5.8" fill="#fff" stroke="#000" stroke-width="1"/>
<circle cx="1108.58" cy="863.3" r="5.8" fill="#fff" stroke="#000" stroke-width="1"/>
<circle cx="1122.75" cy="863.3" r="5.8" fill="#fff" stroke="#000" stroke-width="1"/>
<circle cx="1136.93" cy="863.3" r="5.8" fill="#fff" stroke="#000" stroke-width="1"/>
<circle cx="1151.1" cy="863.3" r="5.8" fill="#fff" stroke="#000" stroke-width="1"/>
<circle cx="1165.27" cy="863.3" r="5.8" fill="#fff" stroke="#000" stroke-width="1"/>
<circle cx="1179.45" cy="863.3" r="5.8" fill="#fff" stroke="#000" stroke-width="1"/>
<circle cx="1193.62" cy="863.3" r="5.8" fill="#fff" stroke="#000" stroke-width="1"/>
<circle cx="1207.79" cy="863.3" r="5.8" fill="#fff" stroke="#000" stroke-width="1"/>
<circle cx="1221.97" cy="863.3" r="5.8" fill="#fff" stroke="#000" stroke-width="1"/>
<circle cx="116.45" cy="882.3" r="5.8" fill="#fff" stroke="#000" stroke-width="1"/><path d="M116.45 876V888.6" stroke="#000" stroke-width="1"/>
<circle cx="130.62" cy="882.3" r="6.3" fill="#000"/>
<circle cx="144.8" cy="882.3" r="6.3" fill="#000"/>
<circle cx="158.97" cy="882.3" r="6.3" fill="#000"/>
<circle cx="173.14" cy="882.3" r="6.3" fill="#000"/>
<circle cx="187.32" cy="882.3" r="5.8" fill="#fff" stroke="#000" stroke-width="1"/><path d="M187.32 882.3V876A6.3 6.3 0 0 1 193.62 882.3Z" fill="#000"/><path d="M187.32 876V888.6" stroke="#000" stroke-width="1"/>
<circle cx="201.49" cy="882.3" r="6.3" fill="#000"/>
<circle cx="215.66" cy="882.3" r="5.8" fill="#fff" stroke="#000" stroke-width="1"/><path d="M215.66 882.3V876A6.3 6.3 0 0 1 221.96 882.3Z" fill="#000"/><path d="M215.66 876V888.6" stroke="#000" stroke-width="1"/>
<circle cx="229.84" cy="882.3" r="6.3" fill="#000"/>
<circle cx="244.01" cy="882.3" r="6.3" fill="#000"/>
<circle cx="258.18" cy="882.3" r="6.3" fill="#000"/>
<circle cx="272.36" cy="882.3" r="6.3" fill="#000"/>
<circle cx="286.53" cy="882.3" r="6.3" fill="#000"/>
<circle cx="300.7" cy="882.3" r="6.3" fill="#000"/>
<circle cx="314.88" cy="882.3" r="6.3" fill="#000"/>
<circle cx="329.05" cy="882.3" r="6.3" fill="#000"/>
<circle cx="343.22" cy="882.3" r="6.3" fill="#000"/>
<circle cx="357.4" cy="882.3" r="6.3" fill="#000"/>
<circle cx="371.57" cy="882.3" r="6.3" fill="#000"/>
<circle cx="385.74" cy="882.3" r="6.3" fill="#000"/>
<circle cx="399.92" cy="882.3" r="6.3" fill="#000"/>
<circle cx="414.09" cy="882.3" r="6.3" fill="#000"/>
<circle cx="428.26" cy="882.3" r="6.3" fill="#000"/>
<circle cx="442.44" cy="882.3" r="6.3" fill="#000"/>
<circle cx="456.61" cy="882.3" r="6.3" fill="#000"/>
<circle cx="470.78" cy="882.3" r="5.8" fill="#fff" stroke="#000" stroke-width="1"/><path d="M470.78 882.3V876A6.3 6.3 0 0 1 477.08 882.3Z" fill="#000"/>
<circle cx="484.96" cy="882.3" r="6.3" fill="#000"/>
<circle cx="499.13" cy="882.3" r="5.8" fill="#fff" stroke="#000" stroke-width="1"/><path d="M499.13 876A6.3 6.3 0 1 1 492.83 882.3H499.13Z" fill="#000"/>
<circle cx="513.3" cy="882.3" r="6.3" fill="#000"/>
<circle cx="527.48" cy="882.3" r="6.3" fill="#000"/>
<circle cx="541.65" cy="882.3" r="5.8" fill="#fff" stroke="#000" stroke-width="1"/>
<circle cx="555.82" cy="882.3" r="5.8" fill="#fff" stroke="#000" stroke-width="1"/><path d="M555.82 876A6.3 6.3 0 1 1 549.52 882.3H555.82Z" fill="#000"/>
<circle cx="570" cy="882.3" r="5.8" fill="#fff" stroke="#000" stroke-width="1"/><circle cx="570" cy="882.3" r="6.3" fill="#000"/><rect x="568.4" y="877" width="3.2" height="10.6" fill="#fff"/>
<circle cx="584.17" cy="882.3" r="6.3" fill="#000"/>
<circle cx="598.34" cy="882.3" r="6.3" fill="#000"/>
<circle cx="612.52" cy="882.3" r="6.3" fill="#000"/>
<circle cx="626.69" cy="882.3" r="6.3" fill="#000"/>
<circle cx="640.86" cy="882.3" r="6.3" fill="#000"/>
<circle cx="655.04" cy="882.3" r="6.3" fill="#000"/>
<circle cx="669.21" cy="882.3" r="6.3" fill="#000"/>
<circle cx="683.38" cy="882.3" r="6.3" fill="#000"/>
<circle cx="697.56" cy="882.3" r="6.3" fill="#000"/>
<circle cx="711.73" cy="882.3" r="6.3" fill="#000"/>
<circle cx="725.9" cy="882.3" r="6.3" fill="#000"/>
<circle cx="740.08" cy="882.3" r="6.3" fill="#000"/>
<circle cx="754.25" cy="882.3" r="6.3" fill="#000"/>
<circle cx="768.42" cy="882.3" r="6.3" fill="#000"/>
<circle cx="782.6" cy="882.3" r="5.8" fill="#fff" stroke="#000" stroke-width="1"/><circle cx="782.6" cy="882.3" r="6.3" fill="#000"/><rect x="781" y="877" width="3.2" height="10.6" fill="#fff"/>
<circle cx="796.77" cy="882.3" r="6.3" fill="#000"/>
<circle cx="810.94" cy="882.3" r="6.3" fill="#000"/>
<circle cx="825.12" cy="882.3" r="6.3" fill="#000"/>
<circle cx="839.29" cy="882.3" r="6.3" fill="#000"/>
<circle cx="853.46" cy="882.3" r="6.3" fill="#000"/>
<circle cx="867.63" cy="882.3" r="5.8" fill="#fff" stroke="#000" stroke-width="1"/>
<circle cx="881.81" cy="882.3" r="5.8" fill="#fff" stroke="#000" stroke-width="1"/>
<circle cx="895.98" cy="882.3" r="5.8" fill="#fff" stroke="#000" stroke-width="1"/>
<circle cx="910.15" cy="882.3" r="5.8" fill="#fff" stroke="#000" stroke-width="1"/><path d="M910.15 876V888.6" stroke="#000" stroke-width="1"/>
<circle cx="924.33" cy="882.3" r="5.8" fill="#fff" stroke="#000" stroke-width="1"/><path d="M924.33 876A6.3 6.3 0 0 1 924.33 888.6Z" fill="#000"/>
<circle cx="938.5" cy="882.3" r="5.8" fill="#fff" stroke="#000" stroke-width="1"/><path d="M938.5 876A6.3 6.3 0 0 1 938.5 888.6Z" fill="#000"/>
<circle cx="952.67" cy="882.3" r="5.8" fill="#fff" stroke="#000" stroke-width="1"/><path d="M952.67 876A6.3 6.3 0 0 1 952.67 888.6Z" fill="#000"/><path d="M946.37 882.3H952.67" stroke="#000" stroke-width="1"/>
<circle cx="966.85" cy="882.3" r="6.3" fill="#000"/>
<circle cx="981.02" cy="882.3" r="6.3" fill="#000"/>
<circle cx="995.19" cy="882.3" r="6.3" fill="#000"/>
<circle cx="1009.37" cy="882.3" r="6.3" fill="#000"/>
<circle cx="1023.54" cy="882.3" r="6.3" fill="#000"/>
<circle cx="1037.71" cy="882.3" r="5.8" fill="#fff" stroke="#000" stroke-width="1"/><path d="M1037.71 876A6.3 6.3 0 1 1 1031.41 882.3H1037.71Z" fill="#000"/>
<circle cx="1051.89" cy="882.3" r="5.8" fill="#fff" stroke="#000" stroke-width="1"/><path d="M1051.89 876A6.3 6.3 0 0 1 1051.89 888.6Z" fill="#000"/>
<circle cx="1066.06" cy="882.3" r="5.8" fill="#fff" stroke="#000" stroke-width="1"/><path d="M1066.06 882.3V876A6.3 6.3 0 0 1 1072.36 882.3Z" fill="#000"/><path d="M1066.06 876V888.6" stroke="#000" stroke-width="1"/>
<circle cx="1080.23" cy="882.3" r="5.8" fill="#fff" stroke="#000" stroke-width="1"/>
<circle cx="1094.41" cy="882.3" r="5.8" fill="#fff" stroke="#000" stroke-width="1"/>
<circle cx="1108.58" cy="882.3" r="5.8" fill="#fff" stroke="#000" stroke-width="1"/>
<circle cx="1122.75" cy="882.3" r="5.8" fill="#fff" stroke="#000" stroke-width="1"/>
<circle cx="1136.93" cy="882.3" r="5.8" fill="#fff" stroke="#000" stroke-width="1"/>
<circle cx="1151.1" cy="882.3" r="5.8" fill="#fff" stroke="#000" stroke-width="1"/>
<circle cx="1165.27" cy="882.3" r="5.8" fill="#fff" stroke="#000" stroke-width="1"/>
<circle cx="1179.45" cy="882.3" r="5.8" fill="#fff" stroke="#000" stroke-width="1"/>
<circle cx="1193.62" cy="882.3" r="5.8" fill="#fff" stroke="#000" stroke-width="1"/>
<circle cx="1207.79" cy="882.3" r="5.8" fill="#fff" stroke="#000" stroke-width="1"/>
<circle cx="1221.97" cy="882.3" r="5.8" fill="#fff" stroke="#000" stroke-width="1"/>
</g>
</svg>
</body></html>
